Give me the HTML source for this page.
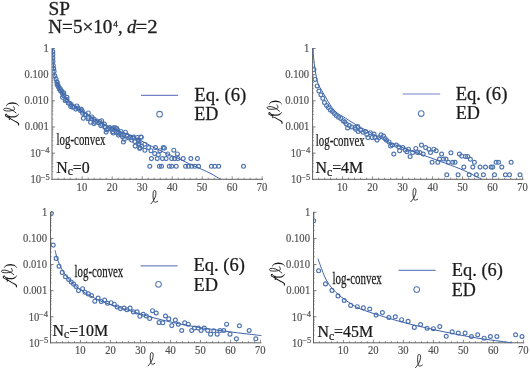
<!DOCTYPE html>
<html><head><meta charset="utf-8"><style>
html,body{margin:0;padding:0;background:#fff;}
body{width:530px;height:368px;overflow:hidden;}
svg{display:block;will-change:transform;filter:blur(0.3px);}
text{font-family:"Liberation Serif",serif;}
.b{stroke:#1a1a1a;stroke-width:0.25px;}
.bt{stroke:#1e1e1e;stroke-width:0.3px;}
.bl{stroke:#505050;stroke-width:0.2px;}
</style></head><body>
<svg width="530" height="368" viewBox="0 0 530 368">
<rect width="530" height="368" fill="#fff"/>
<line x1="52.0" y1="48.0" x2="52.0" y2="179.8" stroke="#606060" stroke-width="1"/>
<line x1="51.5" y1="179.3" x2="263.0" y2="179.3" stroke="#606060" stroke-width="1"/>
<line x1="52.0" y1="48.50" x2="55.0" y2="48.50" stroke="#606060" stroke-width="0.8"/>
<line x1="52.0" y1="66.79" x2="53.4" y2="66.79" stroke="#606060" stroke-width="0.5"/>
<line x1="52.0" y1="62.18" x2="53.4" y2="62.18" stroke="#606060" stroke-width="0.5"/>
<line x1="52.0" y1="58.91" x2="53.4" y2="58.91" stroke="#606060" stroke-width="0.5"/>
<line x1="52.0" y1="56.37" x2="53.4" y2="56.37" stroke="#606060" stroke-width="0.5"/>
<line x1="52.0" y1="54.30" x2="53.4" y2="54.30" stroke="#606060" stroke-width="0.5"/>
<line x1="52.0" y1="52.55" x2="53.4" y2="52.55" stroke="#606060" stroke-width="0.5"/>
<line x1="52.0" y1="51.04" x2="53.4" y2="51.04" stroke="#606060" stroke-width="0.5"/>
<line x1="52.0" y1="49.70" x2="53.4" y2="49.70" stroke="#606060" stroke-width="0.5"/>
<line x1="52.0" y1="74.66" x2="55.0" y2="74.66" stroke="#606060" stroke-width="0.8"/>
<line x1="52.0" y1="92.95" x2="53.4" y2="92.95" stroke="#606060" stroke-width="0.5"/>
<line x1="52.0" y1="88.34" x2="53.4" y2="88.34" stroke="#606060" stroke-width="0.5"/>
<line x1="52.0" y1="85.07" x2="53.4" y2="85.07" stroke="#606060" stroke-width="0.5"/>
<line x1="52.0" y1="82.53" x2="53.4" y2="82.53" stroke="#606060" stroke-width="0.5"/>
<line x1="52.0" y1="80.46" x2="53.4" y2="80.46" stroke="#606060" stroke-width="0.5"/>
<line x1="52.0" y1="78.71" x2="53.4" y2="78.71" stroke="#606060" stroke-width="0.5"/>
<line x1="52.0" y1="77.20" x2="53.4" y2="77.20" stroke="#606060" stroke-width="0.5"/>
<line x1="52.0" y1="75.86" x2="53.4" y2="75.86" stroke="#606060" stroke-width="0.5"/>
<line x1="52.0" y1="100.82" x2="55.0" y2="100.82" stroke="#606060" stroke-width="0.8"/>
<line x1="52.0" y1="119.11" x2="53.4" y2="119.11" stroke="#606060" stroke-width="0.5"/>
<line x1="52.0" y1="114.50" x2="53.4" y2="114.50" stroke="#606060" stroke-width="0.5"/>
<line x1="52.0" y1="111.23" x2="53.4" y2="111.23" stroke="#606060" stroke-width="0.5"/>
<line x1="52.0" y1="108.69" x2="53.4" y2="108.69" stroke="#606060" stroke-width="0.5"/>
<line x1="52.0" y1="106.62" x2="53.4" y2="106.62" stroke="#606060" stroke-width="0.5"/>
<line x1="52.0" y1="104.87" x2="53.4" y2="104.87" stroke="#606060" stroke-width="0.5"/>
<line x1="52.0" y1="103.36" x2="53.4" y2="103.36" stroke="#606060" stroke-width="0.5"/>
<line x1="52.0" y1="102.02" x2="53.4" y2="102.02" stroke="#606060" stroke-width="0.5"/>
<line x1="52.0" y1="126.98" x2="55.0" y2="126.98" stroke="#606060" stroke-width="0.8"/>
<line x1="52.0" y1="145.27" x2="53.4" y2="145.27" stroke="#606060" stroke-width="0.5"/>
<line x1="52.0" y1="140.66" x2="53.4" y2="140.66" stroke="#606060" stroke-width="0.5"/>
<line x1="52.0" y1="137.39" x2="53.4" y2="137.39" stroke="#606060" stroke-width="0.5"/>
<line x1="52.0" y1="134.85" x2="53.4" y2="134.85" stroke="#606060" stroke-width="0.5"/>
<line x1="52.0" y1="132.78" x2="53.4" y2="132.78" stroke="#606060" stroke-width="0.5"/>
<line x1="52.0" y1="131.03" x2="53.4" y2="131.03" stroke="#606060" stroke-width="0.5"/>
<line x1="52.0" y1="129.52" x2="53.4" y2="129.52" stroke="#606060" stroke-width="0.5"/>
<line x1="52.0" y1="128.18" x2="53.4" y2="128.18" stroke="#606060" stroke-width="0.5"/>
<line x1="52.0" y1="153.14" x2="55.0" y2="153.14" stroke="#606060" stroke-width="0.8"/>
<line x1="52.0" y1="171.43" x2="53.4" y2="171.43" stroke="#606060" stroke-width="0.5"/>
<line x1="52.0" y1="166.82" x2="53.4" y2="166.82" stroke="#606060" stroke-width="0.5"/>
<line x1="52.0" y1="163.55" x2="53.4" y2="163.55" stroke="#606060" stroke-width="0.5"/>
<line x1="52.0" y1="161.01" x2="53.4" y2="161.01" stroke="#606060" stroke-width="0.5"/>
<line x1="52.0" y1="158.94" x2="53.4" y2="158.94" stroke="#606060" stroke-width="0.5"/>
<line x1="52.0" y1="157.19" x2="53.4" y2="157.19" stroke="#606060" stroke-width="0.5"/>
<line x1="52.0" y1="155.68" x2="53.4" y2="155.68" stroke="#606060" stroke-width="0.5"/>
<line x1="52.0" y1="154.34" x2="53.4" y2="154.34" stroke="#606060" stroke-width="0.5"/>
<line x1="58.20" y1="179.3" x2="58.20" y2="177.70000000000002" stroke="#606060" stroke-width="0.7"/>
<line x1="64.20" y1="179.3" x2="64.20" y2="177.70000000000002" stroke="#606060" stroke-width="0.7"/>
<line x1="70.20" y1="179.3" x2="70.20" y2="177.70000000000002" stroke="#606060" stroke-width="0.7"/>
<line x1="76.20" y1="179.3" x2="76.20" y2="177.70000000000002" stroke="#606060" stroke-width="0.7"/>
<line x1="82.20" y1="179.3" x2="82.20" y2="176.3" stroke="#606060" stroke-width="0.7"/>
<line x1="88.20" y1="179.3" x2="88.20" y2="177.70000000000002" stroke="#606060" stroke-width="0.7"/>
<line x1="94.20" y1="179.3" x2="94.20" y2="177.70000000000002" stroke="#606060" stroke-width="0.7"/>
<line x1="100.20" y1="179.3" x2="100.20" y2="177.70000000000002" stroke="#606060" stroke-width="0.7"/>
<line x1="106.20" y1="179.3" x2="106.20" y2="177.70000000000002" stroke="#606060" stroke-width="0.7"/>
<line x1="112.20" y1="179.3" x2="112.20" y2="176.3" stroke="#606060" stroke-width="0.7"/>
<line x1="118.20" y1="179.3" x2="118.20" y2="177.70000000000002" stroke="#606060" stroke-width="0.7"/>
<line x1="124.20" y1="179.3" x2="124.20" y2="177.70000000000002" stroke="#606060" stroke-width="0.7"/>
<line x1="130.20" y1="179.3" x2="130.20" y2="177.70000000000002" stroke="#606060" stroke-width="0.7"/>
<line x1="136.20" y1="179.3" x2="136.20" y2="177.70000000000002" stroke="#606060" stroke-width="0.7"/>
<line x1="142.20" y1="179.3" x2="142.20" y2="176.3" stroke="#606060" stroke-width="0.7"/>
<line x1="148.20" y1="179.3" x2="148.20" y2="177.70000000000002" stroke="#606060" stroke-width="0.7"/>
<line x1="154.20" y1="179.3" x2="154.20" y2="177.70000000000002" stroke="#606060" stroke-width="0.7"/>
<line x1="160.20" y1="179.3" x2="160.20" y2="177.70000000000002" stroke="#606060" stroke-width="0.7"/>
<line x1="166.20" y1="179.3" x2="166.20" y2="177.70000000000002" stroke="#606060" stroke-width="0.7"/>
<line x1="172.20" y1="179.3" x2="172.20" y2="176.3" stroke="#606060" stroke-width="0.7"/>
<line x1="178.20" y1="179.3" x2="178.20" y2="177.70000000000002" stroke="#606060" stroke-width="0.7"/>
<line x1="184.20" y1="179.3" x2="184.20" y2="177.70000000000002" stroke="#606060" stroke-width="0.7"/>
<line x1="190.20" y1="179.3" x2="190.20" y2="177.70000000000002" stroke="#606060" stroke-width="0.7"/>
<line x1="196.20" y1="179.3" x2="196.20" y2="177.70000000000002" stroke="#606060" stroke-width="0.7"/>
<line x1="202.20" y1="179.3" x2="202.20" y2="176.3" stroke="#606060" stroke-width="0.7"/>
<line x1="208.20" y1="179.3" x2="208.20" y2="177.70000000000002" stroke="#606060" stroke-width="0.7"/>
<line x1="214.20" y1="179.3" x2="214.20" y2="177.70000000000002" stroke="#606060" stroke-width="0.7"/>
<line x1="220.20" y1="179.3" x2="220.20" y2="177.70000000000002" stroke="#606060" stroke-width="0.7"/>
<line x1="226.20" y1="179.3" x2="226.20" y2="177.70000000000002" stroke="#606060" stroke-width="0.7"/>
<line x1="232.20" y1="179.3" x2="232.20" y2="176.3" stroke="#606060" stroke-width="0.7"/>
<line x1="238.20" y1="179.3" x2="238.20" y2="177.70000000000002" stroke="#606060" stroke-width="0.7"/>
<line x1="244.20" y1="179.3" x2="244.20" y2="177.70000000000002" stroke="#606060" stroke-width="0.7"/>
<line x1="250.20" y1="179.3" x2="250.20" y2="177.70000000000002" stroke="#606060" stroke-width="0.7"/>
<line x1="256.20" y1="179.3" x2="256.20" y2="177.70000000000002" stroke="#606060" stroke-width="0.7"/>
<line x1="262.20" y1="179.3" x2="262.20" y2="176.3" stroke="#606060" stroke-width="0.7"/>
<text class="bl" transform="translate(43.43,52.00) scale(0.8300,1)" style="font-size:12.8px;fill:#505050">1</text>
<text class="bl" transform="translate(24.60,78.16) scale(0.8300,1)" style="font-size:12.8px;fill:#505050">0.100</text>
<text class="bl" transform="translate(24.60,104.32) scale(0.8300,1)" style="font-size:12.8px;fill:#505050">0.010</text>
<text class="bl" transform="translate(24.83,130.48) scale(0.8300,1)" style="font-size:12.8px;fill:#505050">0.001</text>
<text class="bl" transform="translate(40.49,153.44) scale(1.0000,1)" style="font-size:8.5px;fill:#505050">−4</text>
<text class="bl" transform="translate(30.19,157.14) scale(0.8300,1)" style="font-size:12.8px;fill:#505050">10</text>
<text class="bl" transform="translate(40.69,179.60) scale(1.0000,1)" style="font-size:8.5px;fill:#505050">−5</text>
<text class="bl" transform="translate(30.39,183.30) scale(0.8300,1)" style="font-size:12.8px;fill:#505050">10</text>
<text class="bl" transform="translate(76.62,190.90) scale(0.8300,1)" style="font-size:12.8px;fill:#505050">10</text>
<text class="bl" transform="translate(106.86,190.90) scale(0.8300,1)" style="font-size:12.8px;fill:#505050">20</text>
<text class="bl" transform="translate(136.84,190.90) scale(0.8300,1)" style="font-size:12.8px;fill:#505050">30</text>
<text class="bl" transform="translate(166.99,190.90) scale(0.8300,1)" style="font-size:12.8px;fill:#505050">40</text>
<text class="bl" transform="translate(196.78,190.90) scale(0.8300,1)" style="font-size:12.8px;fill:#505050">50</text>
<text class="bl" transform="translate(226.86,190.90) scale(0.8300,1)" style="font-size:12.8px;fill:#505050">60</text>
<text class="bl" transform="translate(256.74,190.90) scale(0.8300,1)" style="font-size:12.8px;fill:#505050">70</text>
<line x1="312.6" y1="48.0" x2="312.6" y2="179.8" stroke="#606060" stroke-width="1"/>
<line x1="312.1" y1="179.3" x2="523.4" y2="179.3" stroke="#606060" stroke-width="1"/>
<line x1="312.6" y1="48.50" x2="315.6" y2="48.50" stroke="#606060" stroke-width="0.8"/>
<line x1="312.6" y1="66.79" x2="314.0" y2="66.79" stroke="#606060" stroke-width="0.5"/>
<line x1="312.6" y1="62.18" x2="314.0" y2="62.18" stroke="#606060" stroke-width="0.5"/>
<line x1="312.6" y1="58.91" x2="314.0" y2="58.91" stroke="#606060" stroke-width="0.5"/>
<line x1="312.6" y1="56.37" x2="314.0" y2="56.37" stroke="#606060" stroke-width="0.5"/>
<line x1="312.6" y1="54.30" x2="314.0" y2="54.30" stroke="#606060" stroke-width="0.5"/>
<line x1="312.6" y1="52.55" x2="314.0" y2="52.55" stroke="#606060" stroke-width="0.5"/>
<line x1="312.6" y1="51.04" x2="314.0" y2="51.04" stroke="#606060" stroke-width="0.5"/>
<line x1="312.6" y1="49.70" x2="314.0" y2="49.70" stroke="#606060" stroke-width="0.5"/>
<line x1="312.6" y1="74.66" x2="315.6" y2="74.66" stroke="#606060" stroke-width="0.8"/>
<line x1="312.6" y1="92.95" x2="314.0" y2="92.95" stroke="#606060" stroke-width="0.5"/>
<line x1="312.6" y1="88.34" x2="314.0" y2="88.34" stroke="#606060" stroke-width="0.5"/>
<line x1="312.6" y1="85.07" x2="314.0" y2="85.07" stroke="#606060" stroke-width="0.5"/>
<line x1="312.6" y1="82.53" x2="314.0" y2="82.53" stroke="#606060" stroke-width="0.5"/>
<line x1="312.6" y1="80.46" x2="314.0" y2="80.46" stroke="#606060" stroke-width="0.5"/>
<line x1="312.6" y1="78.71" x2="314.0" y2="78.71" stroke="#606060" stroke-width="0.5"/>
<line x1="312.6" y1="77.20" x2="314.0" y2="77.20" stroke="#606060" stroke-width="0.5"/>
<line x1="312.6" y1="75.86" x2="314.0" y2="75.86" stroke="#606060" stroke-width="0.5"/>
<line x1="312.6" y1="100.82" x2="315.6" y2="100.82" stroke="#606060" stroke-width="0.8"/>
<line x1="312.6" y1="119.11" x2="314.0" y2="119.11" stroke="#606060" stroke-width="0.5"/>
<line x1="312.6" y1="114.50" x2="314.0" y2="114.50" stroke="#606060" stroke-width="0.5"/>
<line x1="312.6" y1="111.23" x2="314.0" y2="111.23" stroke="#606060" stroke-width="0.5"/>
<line x1="312.6" y1="108.69" x2="314.0" y2="108.69" stroke="#606060" stroke-width="0.5"/>
<line x1="312.6" y1="106.62" x2="314.0" y2="106.62" stroke="#606060" stroke-width="0.5"/>
<line x1="312.6" y1="104.87" x2="314.0" y2="104.87" stroke="#606060" stroke-width="0.5"/>
<line x1="312.6" y1="103.36" x2="314.0" y2="103.36" stroke="#606060" stroke-width="0.5"/>
<line x1="312.6" y1="102.02" x2="314.0" y2="102.02" stroke="#606060" stroke-width="0.5"/>
<line x1="312.6" y1="126.98" x2="315.6" y2="126.98" stroke="#606060" stroke-width="0.8"/>
<line x1="312.6" y1="145.27" x2="314.0" y2="145.27" stroke="#606060" stroke-width="0.5"/>
<line x1="312.6" y1="140.66" x2="314.0" y2="140.66" stroke="#606060" stroke-width="0.5"/>
<line x1="312.6" y1="137.39" x2="314.0" y2="137.39" stroke="#606060" stroke-width="0.5"/>
<line x1="312.6" y1="134.85" x2="314.0" y2="134.85" stroke="#606060" stroke-width="0.5"/>
<line x1="312.6" y1="132.78" x2="314.0" y2="132.78" stroke="#606060" stroke-width="0.5"/>
<line x1="312.6" y1="131.03" x2="314.0" y2="131.03" stroke="#606060" stroke-width="0.5"/>
<line x1="312.6" y1="129.52" x2="314.0" y2="129.52" stroke="#606060" stroke-width="0.5"/>
<line x1="312.6" y1="128.18" x2="314.0" y2="128.18" stroke="#606060" stroke-width="0.5"/>
<line x1="312.6" y1="153.14" x2="315.6" y2="153.14" stroke="#606060" stroke-width="0.8"/>
<line x1="312.6" y1="171.43" x2="314.0" y2="171.43" stroke="#606060" stroke-width="0.5"/>
<line x1="312.6" y1="166.82" x2="314.0" y2="166.82" stroke="#606060" stroke-width="0.5"/>
<line x1="312.6" y1="163.55" x2="314.0" y2="163.55" stroke="#606060" stroke-width="0.5"/>
<line x1="312.6" y1="161.01" x2="314.0" y2="161.01" stroke="#606060" stroke-width="0.5"/>
<line x1="312.6" y1="158.94" x2="314.0" y2="158.94" stroke="#606060" stroke-width="0.5"/>
<line x1="312.6" y1="157.19" x2="314.0" y2="157.19" stroke="#606060" stroke-width="0.5"/>
<line x1="312.6" y1="155.68" x2="314.0" y2="155.68" stroke="#606060" stroke-width="0.5"/>
<line x1="312.6" y1="154.34" x2="314.0" y2="154.34" stroke="#606060" stroke-width="0.5"/>
<line x1="318.60" y1="179.3" x2="318.60" y2="177.70000000000002" stroke="#606060" stroke-width="0.7"/>
<line x1="324.60" y1="179.3" x2="324.60" y2="177.70000000000002" stroke="#606060" stroke-width="0.7"/>
<line x1="330.60" y1="179.3" x2="330.60" y2="177.70000000000002" stroke="#606060" stroke-width="0.7"/>
<line x1="336.60" y1="179.3" x2="336.60" y2="177.70000000000002" stroke="#606060" stroke-width="0.7"/>
<line x1="342.60" y1="179.3" x2="342.60" y2="176.3" stroke="#606060" stroke-width="0.7"/>
<line x1="348.60" y1="179.3" x2="348.60" y2="177.70000000000002" stroke="#606060" stroke-width="0.7"/>
<line x1="354.60" y1="179.3" x2="354.60" y2="177.70000000000002" stroke="#606060" stroke-width="0.7"/>
<line x1="360.60" y1="179.3" x2="360.60" y2="177.70000000000002" stroke="#606060" stroke-width="0.7"/>
<line x1="366.60" y1="179.3" x2="366.60" y2="177.70000000000002" stroke="#606060" stroke-width="0.7"/>
<line x1="372.60" y1="179.3" x2="372.60" y2="176.3" stroke="#606060" stroke-width="0.7"/>
<line x1="378.60" y1="179.3" x2="378.60" y2="177.70000000000002" stroke="#606060" stroke-width="0.7"/>
<line x1="384.60" y1="179.3" x2="384.60" y2="177.70000000000002" stroke="#606060" stroke-width="0.7"/>
<line x1="390.60" y1="179.3" x2="390.60" y2="177.70000000000002" stroke="#606060" stroke-width="0.7"/>
<line x1="396.60" y1="179.3" x2="396.60" y2="177.70000000000002" stroke="#606060" stroke-width="0.7"/>
<line x1="402.60" y1="179.3" x2="402.60" y2="176.3" stroke="#606060" stroke-width="0.7"/>
<line x1="408.60" y1="179.3" x2="408.60" y2="177.70000000000002" stroke="#606060" stroke-width="0.7"/>
<line x1="414.60" y1="179.3" x2="414.60" y2="177.70000000000002" stroke="#606060" stroke-width="0.7"/>
<line x1="420.60" y1="179.3" x2="420.60" y2="177.70000000000002" stroke="#606060" stroke-width="0.7"/>
<line x1="426.60" y1="179.3" x2="426.60" y2="177.70000000000002" stroke="#606060" stroke-width="0.7"/>
<line x1="432.60" y1="179.3" x2="432.60" y2="176.3" stroke="#606060" stroke-width="0.7"/>
<line x1="438.60" y1="179.3" x2="438.60" y2="177.70000000000002" stroke="#606060" stroke-width="0.7"/>
<line x1="444.60" y1="179.3" x2="444.60" y2="177.70000000000002" stroke="#606060" stroke-width="0.7"/>
<line x1="450.60" y1="179.3" x2="450.60" y2="177.70000000000002" stroke="#606060" stroke-width="0.7"/>
<line x1="456.60" y1="179.3" x2="456.60" y2="177.70000000000002" stroke="#606060" stroke-width="0.7"/>
<line x1="462.60" y1="179.3" x2="462.60" y2="176.3" stroke="#606060" stroke-width="0.7"/>
<line x1="468.60" y1="179.3" x2="468.60" y2="177.70000000000002" stroke="#606060" stroke-width="0.7"/>
<line x1="474.60" y1="179.3" x2="474.60" y2="177.70000000000002" stroke="#606060" stroke-width="0.7"/>
<line x1="480.60" y1="179.3" x2="480.60" y2="177.70000000000002" stroke="#606060" stroke-width="0.7"/>
<line x1="486.60" y1="179.3" x2="486.60" y2="177.70000000000002" stroke="#606060" stroke-width="0.7"/>
<line x1="492.60" y1="179.3" x2="492.60" y2="176.3" stroke="#606060" stroke-width="0.7"/>
<line x1="498.60" y1="179.3" x2="498.60" y2="177.70000000000002" stroke="#606060" stroke-width="0.7"/>
<line x1="504.60" y1="179.3" x2="504.60" y2="177.70000000000002" stroke="#606060" stroke-width="0.7"/>
<line x1="510.60" y1="179.3" x2="510.60" y2="177.70000000000002" stroke="#606060" stroke-width="0.7"/>
<line x1="516.60" y1="179.3" x2="516.60" y2="177.70000000000002" stroke="#606060" stroke-width="0.7"/>
<line x1="522.60" y1="179.3" x2="522.60" y2="176.3" stroke="#606060" stroke-width="0.7"/>
<text class="bl" transform="translate(304.03,52.00) scale(0.8300,1)" style="font-size:12.8px;fill:#505050">1</text>
<text class="bl" transform="translate(285.20,78.16) scale(0.8300,1)" style="font-size:12.8px;fill:#505050">0.100</text>
<text class="bl" transform="translate(285.20,104.32) scale(0.8300,1)" style="font-size:12.8px;fill:#505050">0.010</text>
<text class="bl" transform="translate(285.43,130.48) scale(0.8300,1)" style="font-size:12.8px;fill:#505050">0.001</text>
<text class="bl" transform="translate(301.09,153.44) scale(1.0000,1)" style="font-size:8.5px;fill:#505050">−4</text>
<text class="bl" transform="translate(290.79,157.14) scale(0.8300,1)" style="font-size:12.8px;fill:#505050">10</text>
<text class="bl" transform="translate(301.29,179.60) scale(1.0000,1)" style="font-size:8.5px;fill:#505050">−5</text>
<text class="bl" transform="translate(290.99,183.30) scale(0.8300,1)" style="font-size:12.8px;fill:#505050">10</text>
<text class="bl" transform="translate(337.02,190.90) scale(0.8300,1)" style="font-size:12.8px;fill:#505050">10</text>
<text class="bl" transform="translate(367.26,190.90) scale(0.8300,1)" style="font-size:12.8px;fill:#505050">20</text>
<text class="bl" transform="translate(397.24,190.90) scale(0.8300,1)" style="font-size:12.8px;fill:#505050">30</text>
<text class="bl" transform="translate(427.39,190.90) scale(0.8300,1)" style="font-size:12.8px;fill:#505050">40</text>
<text class="bl" transform="translate(457.18,190.90) scale(0.8300,1)" style="font-size:12.8px;fill:#505050">50</text>
<text class="bl" transform="translate(487.26,190.90) scale(0.8300,1)" style="font-size:12.8px;fill:#505050">60</text>
<text class="bl" transform="translate(517.14,190.90) scale(0.8300,1)" style="font-size:12.8px;fill:#505050">70</text>
<line x1="50.5" y1="211.8" x2="50.5" y2="343.3" stroke="#606060" stroke-width="1"/>
<line x1="50.0" y1="342.8" x2="261.3" y2="342.8" stroke="#606060" stroke-width="1"/>
<line x1="50.5" y1="212.30" x2="53.5" y2="212.30" stroke="#606060" stroke-width="0.8"/>
<line x1="50.5" y1="230.54" x2="51.9" y2="230.54" stroke="#606060" stroke-width="0.5"/>
<line x1="50.5" y1="225.95" x2="51.9" y2="225.95" stroke="#606060" stroke-width="0.5"/>
<line x1="50.5" y1="222.69" x2="51.9" y2="222.69" stroke="#606060" stroke-width="0.5"/>
<line x1="50.5" y1="220.16" x2="51.9" y2="220.16" stroke="#606060" stroke-width="0.5"/>
<line x1="50.5" y1="218.09" x2="51.9" y2="218.09" stroke="#606060" stroke-width="0.5"/>
<line x1="50.5" y1="216.34" x2="51.9" y2="216.34" stroke="#606060" stroke-width="0.5"/>
<line x1="50.5" y1="214.83" x2="51.9" y2="214.83" stroke="#606060" stroke-width="0.5"/>
<line x1="50.5" y1="213.49" x2="51.9" y2="213.49" stroke="#606060" stroke-width="0.5"/>
<line x1="50.5" y1="238.40" x2="53.5" y2="238.40" stroke="#606060" stroke-width="0.8"/>
<line x1="50.5" y1="256.64" x2="51.9" y2="256.64" stroke="#606060" stroke-width="0.5"/>
<line x1="50.5" y1="252.05" x2="51.9" y2="252.05" stroke="#606060" stroke-width="0.5"/>
<line x1="50.5" y1="248.79" x2="51.9" y2="248.79" stroke="#606060" stroke-width="0.5"/>
<line x1="50.5" y1="246.26" x2="51.9" y2="246.26" stroke="#606060" stroke-width="0.5"/>
<line x1="50.5" y1="244.19" x2="51.9" y2="244.19" stroke="#606060" stroke-width="0.5"/>
<line x1="50.5" y1="242.44" x2="51.9" y2="242.44" stroke="#606060" stroke-width="0.5"/>
<line x1="50.5" y1="240.93" x2="51.9" y2="240.93" stroke="#606060" stroke-width="0.5"/>
<line x1="50.5" y1="239.59" x2="51.9" y2="239.59" stroke="#606060" stroke-width="0.5"/>
<line x1="50.5" y1="264.50" x2="53.5" y2="264.50" stroke="#606060" stroke-width="0.8"/>
<line x1="50.5" y1="282.74" x2="51.9" y2="282.74" stroke="#606060" stroke-width="0.5"/>
<line x1="50.5" y1="278.15" x2="51.9" y2="278.15" stroke="#606060" stroke-width="0.5"/>
<line x1="50.5" y1="274.89" x2="51.9" y2="274.89" stroke="#606060" stroke-width="0.5"/>
<line x1="50.5" y1="272.36" x2="51.9" y2="272.36" stroke="#606060" stroke-width="0.5"/>
<line x1="50.5" y1="270.29" x2="51.9" y2="270.29" stroke="#606060" stroke-width="0.5"/>
<line x1="50.5" y1="268.54" x2="51.9" y2="268.54" stroke="#606060" stroke-width="0.5"/>
<line x1="50.5" y1="267.03" x2="51.9" y2="267.03" stroke="#606060" stroke-width="0.5"/>
<line x1="50.5" y1="265.69" x2="51.9" y2="265.69" stroke="#606060" stroke-width="0.5"/>
<line x1="50.5" y1="290.60" x2="53.5" y2="290.60" stroke="#606060" stroke-width="0.8"/>
<line x1="50.5" y1="308.84" x2="51.9" y2="308.84" stroke="#606060" stroke-width="0.5"/>
<line x1="50.5" y1="304.25" x2="51.9" y2="304.25" stroke="#606060" stroke-width="0.5"/>
<line x1="50.5" y1="300.99" x2="51.9" y2="300.99" stroke="#606060" stroke-width="0.5"/>
<line x1="50.5" y1="298.46" x2="51.9" y2="298.46" stroke="#606060" stroke-width="0.5"/>
<line x1="50.5" y1="296.39" x2="51.9" y2="296.39" stroke="#606060" stroke-width="0.5"/>
<line x1="50.5" y1="294.64" x2="51.9" y2="294.64" stroke="#606060" stroke-width="0.5"/>
<line x1="50.5" y1="293.13" x2="51.9" y2="293.13" stroke="#606060" stroke-width="0.5"/>
<line x1="50.5" y1="291.79" x2="51.9" y2="291.79" stroke="#606060" stroke-width="0.5"/>
<line x1="50.5" y1="316.70" x2="53.5" y2="316.70" stroke="#606060" stroke-width="0.8"/>
<line x1="50.5" y1="334.94" x2="51.9" y2="334.94" stroke="#606060" stroke-width="0.5"/>
<line x1="50.5" y1="330.35" x2="51.9" y2="330.35" stroke="#606060" stroke-width="0.5"/>
<line x1="50.5" y1="327.09" x2="51.9" y2="327.09" stroke="#606060" stroke-width="0.5"/>
<line x1="50.5" y1="324.56" x2="51.9" y2="324.56" stroke="#606060" stroke-width="0.5"/>
<line x1="50.5" y1="322.49" x2="51.9" y2="322.49" stroke="#606060" stroke-width="0.5"/>
<line x1="50.5" y1="320.74" x2="51.9" y2="320.74" stroke="#606060" stroke-width="0.5"/>
<line x1="50.5" y1="319.23" x2="51.9" y2="319.23" stroke="#606060" stroke-width="0.5"/>
<line x1="50.5" y1="317.89" x2="51.9" y2="317.89" stroke="#606060" stroke-width="0.5"/>
<line x1="56.50" y1="342.8" x2="56.50" y2="341.2" stroke="#606060" stroke-width="0.7"/>
<line x1="62.50" y1="342.8" x2="62.50" y2="341.2" stroke="#606060" stroke-width="0.7"/>
<line x1="68.50" y1="342.8" x2="68.50" y2="341.2" stroke="#606060" stroke-width="0.7"/>
<line x1="74.50" y1="342.8" x2="74.50" y2="341.2" stroke="#606060" stroke-width="0.7"/>
<line x1="80.50" y1="342.8" x2="80.50" y2="339.8" stroke="#606060" stroke-width="0.7"/>
<line x1="86.50" y1="342.8" x2="86.50" y2="341.2" stroke="#606060" stroke-width="0.7"/>
<line x1="92.50" y1="342.8" x2="92.50" y2="341.2" stroke="#606060" stroke-width="0.7"/>
<line x1="98.50" y1="342.8" x2="98.50" y2="341.2" stroke="#606060" stroke-width="0.7"/>
<line x1="104.50" y1="342.8" x2="104.50" y2="341.2" stroke="#606060" stroke-width="0.7"/>
<line x1="110.50" y1="342.8" x2="110.50" y2="339.8" stroke="#606060" stroke-width="0.7"/>
<line x1="116.50" y1="342.8" x2="116.50" y2="341.2" stroke="#606060" stroke-width="0.7"/>
<line x1="122.50" y1="342.8" x2="122.50" y2="341.2" stroke="#606060" stroke-width="0.7"/>
<line x1="128.50" y1="342.8" x2="128.50" y2="341.2" stroke="#606060" stroke-width="0.7"/>
<line x1="134.50" y1="342.8" x2="134.50" y2="341.2" stroke="#606060" stroke-width="0.7"/>
<line x1="140.50" y1="342.8" x2="140.50" y2="339.8" stroke="#606060" stroke-width="0.7"/>
<line x1="146.50" y1="342.8" x2="146.50" y2="341.2" stroke="#606060" stroke-width="0.7"/>
<line x1="152.50" y1="342.8" x2="152.50" y2="341.2" stroke="#606060" stroke-width="0.7"/>
<line x1="158.50" y1="342.8" x2="158.50" y2="341.2" stroke="#606060" stroke-width="0.7"/>
<line x1="164.50" y1="342.8" x2="164.50" y2="341.2" stroke="#606060" stroke-width="0.7"/>
<line x1="170.50" y1="342.8" x2="170.50" y2="339.8" stroke="#606060" stroke-width="0.7"/>
<line x1="176.50" y1="342.8" x2="176.50" y2="341.2" stroke="#606060" stroke-width="0.7"/>
<line x1="182.50" y1="342.8" x2="182.50" y2="341.2" stroke="#606060" stroke-width="0.7"/>
<line x1="188.50" y1="342.8" x2="188.50" y2="341.2" stroke="#606060" stroke-width="0.7"/>
<line x1="194.50" y1="342.8" x2="194.50" y2="341.2" stroke="#606060" stroke-width="0.7"/>
<line x1="200.50" y1="342.8" x2="200.50" y2="339.8" stroke="#606060" stroke-width="0.7"/>
<line x1="206.50" y1="342.8" x2="206.50" y2="341.2" stroke="#606060" stroke-width="0.7"/>
<line x1="212.50" y1="342.8" x2="212.50" y2="341.2" stroke="#606060" stroke-width="0.7"/>
<line x1="218.50" y1="342.8" x2="218.50" y2="341.2" stroke="#606060" stroke-width="0.7"/>
<line x1="224.50" y1="342.8" x2="224.50" y2="341.2" stroke="#606060" stroke-width="0.7"/>
<line x1="230.50" y1="342.8" x2="230.50" y2="339.8" stroke="#606060" stroke-width="0.7"/>
<line x1="236.50" y1="342.8" x2="236.50" y2="341.2" stroke="#606060" stroke-width="0.7"/>
<line x1="242.50" y1="342.8" x2="242.50" y2="341.2" stroke="#606060" stroke-width="0.7"/>
<line x1="248.50" y1="342.8" x2="248.50" y2="341.2" stroke="#606060" stroke-width="0.7"/>
<line x1="254.50" y1="342.8" x2="254.50" y2="341.2" stroke="#606060" stroke-width="0.7"/>
<line x1="260.50" y1="342.8" x2="260.50" y2="339.8" stroke="#606060" stroke-width="0.7"/>
<text class="bl" transform="translate(41.93,215.80) scale(0.8300,1)" style="font-size:12.8px;fill:#505050">1</text>
<text class="bl" transform="translate(23.10,241.90) scale(0.8300,1)" style="font-size:12.8px;fill:#505050">0.100</text>
<text class="bl" transform="translate(23.10,268.00) scale(0.8300,1)" style="font-size:12.8px;fill:#505050">0.010</text>
<text class="bl" transform="translate(23.33,294.10) scale(0.8300,1)" style="font-size:12.8px;fill:#505050">0.001</text>
<text class="bl" transform="translate(38.99,317.00) scale(1.0000,1)" style="font-size:8.5px;fill:#505050">−4</text>
<text class="bl" transform="translate(28.69,320.70) scale(0.8300,1)" style="font-size:12.8px;fill:#505050">10</text>
<text class="bl" transform="translate(39.19,343.10) scale(1.0000,1)" style="font-size:8.5px;fill:#505050">−5</text>
<text class="bl" transform="translate(28.89,346.80) scale(0.8300,1)" style="font-size:12.8px;fill:#505050">10</text>
<text class="bl" transform="translate(74.92,354.40) scale(0.8300,1)" style="font-size:12.8px;fill:#505050">10</text>
<text class="bl" transform="translate(105.16,354.40) scale(0.8300,1)" style="font-size:12.8px;fill:#505050">20</text>
<text class="bl" transform="translate(135.14,354.40) scale(0.8300,1)" style="font-size:12.8px;fill:#505050">30</text>
<text class="bl" transform="translate(165.29,354.40) scale(0.8300,1)" style="font-size:12.8px;fill:#505050">40</text>
<text class="bl" transform="translate(195.08,354.40) scale(0.8300,1)" style="font-size:12.8px;fill:#505050">50</text>
<text class="bl" transform="translate(225.16,354.40) scale(0.8300,1)" style="font-size:12.8px;fill:#505050">60</text>
<text class="bl" transform="translate(255.04,354.40) scale(0.8300,1)" style="font-size:12.8px;fill:#505050">70</text>
<line x1="313.5" y1="211.8" x2="313.5" y2="343.3" stroke="#606060" stroke-width="1"/>
<line x1="313.0" y1="342.8" x2="524.1999999999999" y2="342.8" stroke="#606060" stroke-width="1"/>
<line x1="313.5" y1="212.30" x2="316.5" y2="212.30" stroke="#606060" stroke-width="0.8"/>
<line x1="313.5" y1="230.54" x2="314.9" y2="230.54" stroke="#606060" stroke-width="0.5"/>
<line x1="313.5" y1="225.95" x2="314.9" y2="225.95" stroke="#606060" stroke-width="0.5"/>
<line x1="313.5" y1="222.69" x2="314.9" y2="222.69" stroke="#606060" stroke-width="0.5"/>
<line x1="313.5" y1="220.16" x2="314.9" y2="220.16" stroke="#606060" stroke-width="0.5"/>
<line x1="313.5" y1="218.09" x2="314.9" y2="218.09" stroke="#606060" stroke-width="0.5"/>
<line x1="313.5" y1="216.34" x2="314.9" y2="216.34" stroke="#606060" stroke-width="0.5"/>
<line x1="313.5" y1="214.83" x2="314.9" y2="214.83" stroke="#606060" stroke-width="0.5"/>
<line x1="313.5" y1="213.49" x2="314.9" y2="213.49" stroke="#606060" stroke-width="0.5"/>
<line x1="313.5" y1="238.40" x2="316.5" y2="238.40" stroke="#606060" stroke-width="0.8"/>
<line x1="313.5" y1="256.64" x2="314.9" y2="256.64" stroke="#606060" stroke-width="0.5"/>
<line x1="313.5" y1="252.05" x2="314.9" y2="252.05" stroke="#606060" stroke-width="0.5"/>
<line x1="313.5" y1="248.79" x2="314.9" y2="248.79" stroke="#606060" stroke-width="0.5"/>
<line x1="313.5" y1="246.26" x2="314.9" y2="246.26" stroke="#606060" stroke-width="0.5"/>
<line x1="313.5" y1="244.19" x2="314.9" y2="244.19" stroke="#606060" stroke-width="0.5"/>
<line x1="313.5" y1="242.44" x2="314.9" y2="242.44" stroke="#606060" stroke-width="0.5"/>
<line x1="313.5" y1="240.93" x2="314.9" y2="240.93" stroke="#606060" stroke-width="0.5"/>
<line x1="313.5" y1="239.59" x2="314.9" y2="239.59" stroke="#606060" stroke-width="0.5"/>
<line x1="313.5" y1="264.50" x2="316.5" y2="264.50" stroke="#606060" stroke-width="0.8"/>
<line x1="313.5" y1="282.74" x2="314.9" y2="282.74" stroke="#606060" stroke-width="0.5"/>
<line x1="313.5" y1="278.15" x2="314.9" y2="278.15" stroke="#606060" stroke-width="0.5"/>
<line x1="313.5" y1="274.89" x2="314.9" y2="274.89" stroke="#606060" stroke-width="0.5"/>
<line x1="313.5" y1="272.36" x2="314.9" y2="272.36" stroke="#606060" stroke-width="0.5"/>
<line x1="313.5" y1="270.29" x2="314.9" y2="270.29" stroke="#606060" stroke-width="0.5"/>
<line x1="313.5" y1="268.54" x2="314.9" y2="268.54" stroke="#606060" stroke-width="0.5"/>
<line x1="313.5" y1="267.03" x2="314.9" y2="267.03" stroke="#606060" stroke-width="0.5"/>
<line x1="313.5" y1="265.69" x2="314.9" y2="265.69" stroke="#606060" stroke-width="0.5"/>
<line x1="313.5" y1="290.60" x2="316.5" y2="290.60" stroke="#606060" stroke-width="0.8"/>
<line x1="313.5" y1="308.84" x2="314.9" y2="308.84" stroke="#606060" stroke-width="0.5"/>
<line x1="313.5" y1="304.25" x2="314.9" y2="304.25" stroke="#606060" stroke-width="0.5"/>
<line x1="313.5" y1="300.99" x2="314.9" y2="300.99" stroke="#606060" stroke-width="0.5"/>
<line x1="313.5" y1="298.46" x2="314.9" y2="298.46" stroke="#606060" stroke-width="0.5"/>
<line x1="313.5" y1="296.39" x2="314.9" y2="296.39" stroke="#606060" stroke-width="0.5"/>
<line x1="313.5" y1="294.64" x2="314.9" y2="294.64" stroke="#606060" stroke-width="0.5"/>
<line x1="313.5" y1="293.13" x2="314.9" y2="293.13" stroke="#606060" stroke-width="0.5"/>
<line x1="313.5" y1="291.79" x2="314.9" y2="291.79" stroke="#606060" stroke-width="0.5"/>
<line x1="313.5" y1="316.70" x2="316.5" y2="316.70" stroke="#606060" stroke-width="0.8"/>
<line x1="313.5" y1="334.94" x2="314.9" y2="334.94" stroke="#606060" stroke-width="0.5"/>
<line x1="313.5" y1="330.35" x2="314.9" y2="330.35" stroke="#606060" stroke-width="0.5"/>
<line x1="313.5" y1="327.09" x2="314.9" y2="327.09" stroke="#606060" stroke-width="0.5"/>
<line x1="313.5" y1="324.56" x2="314.9" y2="324.56" stroke="#606060" stroke-width="0.5"/>
<line x1="313.5" y1="322.49" x2="314.9" y2="322.49" stroke="#606060" stroke-width="0.5"/>
<line x1="313.5" y1="320.74" x2="314.9" y2="320.74" stroke="#606060" stroke-width="0.5"/>
<line x1="313.5" y1="319.23" x2="314.9" y2="319.23" stroke="#606060" stroke-width="0.5"/>
<line x1="313.5" y1="317.89" x2="314.9" y2="317.89" stroke="#606060" stroke-width="0.5"/>
<line x1="319.40" y1="342.8" x2="319.40" y2="341.2" stroke="#606060" stroke-width="0.7"/>
<line x1="325.40" y1="342.8" x2="325.40" y2="341.2" stroke="#606060" stroke-width="0.7"/>
<line x1="331.40" y1="342.8" x2="331.40" y2="341.2" stroke="#606060" stroke-width="0.7"/>
<line x1="337.40" y1="342.8" x2="337.40" y2="341.2" stroke="#606060" stroke-width="0.7"/>
<line x1="343.40" y1="342.8" x2="343.40" y2="339.8" stroke="#606060" stroke-width="0.7"/>
<line x1="349.40" y1="342.8" x2="349.40" y2="341.2" stroke="#606060" stroke-width="0.7"/>
<line x1="355.40" y1="342.8" x2="355.40" y2="341.2" stroke="#606060" stroke-width="0.7"/>
<line x1="361.40" y1="342.8" x2="361.40" y2="341.2" stroke="#606060" stroke-width="0.7"/>
<line x1="367.40" y1="342.8" x2="367.40" y2="341.2" stroke="#606060" stroke-width="0.7"/>
<line x1="373.40" y1="342.8" x2="373.40" y2="339.8" stroke="#606060" stroke-width="0.7"/>
<line x1="379.40" y1="342.8" x2="379.40" y2="341.2" stroke="#606060" stroke-width="0.7"/>
<line x1="385.40" y1="342.8" x2="385.40" y2="341.2" stroke="#606060" stroke-width="0.7"/>
<line x1="391.40" y1="342.8" x2="391.40" y2="341.2" stroke="#606060" stroke-width="0.7"/>
<line x1="397.40" y1="342.8" x2="397.40" y2="341.2" stroke="#606060" stroke-width="0.7"/>
<line x1="403.40" y1="342.8" x2="403.40" y2="339.8" stroke="#606060" stroke-width="0.7"/>
<line x1="409.40" y1="342.8" x2="409.40" y2="341.2" stroke="#606060" stroke-width="0.7"/>
<line x1="415.40" y1="342.8" x2="415.40" y2="341.2" stroke="#606060" stroke-width="0.7"/>
<line x1="421.40" y1="342.8" x2="421.40" y2="341.2" stroke="#606060" stroke-width="0.7"/>
<line x1="427.40" y1="342.8" x2="427.40" y2="341.2" stroke="#606060" stroke-width="0.7"/>
<line x1="433.40" y1="342.8" x2="433.40" y2="339.8" stroke="#606060" stroke-width="0.7"/>
<line x1="439.40" y1="342.8" x2="439.40" y2="341.2" stroke="#606060" stroke-width="0.7"/>
<line x1="445.40" y1="342.8" x2="445.40" y2="341.2" stroke="#606060" stroke-width="0.7"/>
<line x1="451.40" y1="342.8" x2="451.40" y2="341.2" stroke="#606060" stroke-width="0.7"/>
<line x1="457.40" y1="342.8" x2="457.40" y2="341.2" stroke="#606060" stroke-width="0.7"/>
<line x1="463.40" y1="342.8" x2="463.40" y2="339.8" stroke="#606060" stroke-width="0.7"/>
<line x1="469.40" y1="342.8" x2="469.40" y2="341.2" stroke="#606060" stroke-width="0.7"/>
<line x1="475.40" y1="342.8" x2="475.40" y2="341.2" stroke="#606060" stroke-width="0.7"/>
<line x1="481.40" y1="342.8" x2="481.40" y2="341.2" stroke="#606060" stroke-width="0.7"/>
<line x1="487.40" y1="342.8" x2="487.40" y2="341.2" stroke="#606060" stroke-width="0.7"/>
<line x1="493.40" y1="342.8" x2="493.40" y2="339.8" stroke="#606060" stroke-width="0.7"/>
<line x1="499.40" y1="342.8" x2="499.40" y2="341.2" stroke="#606060" stroke-width="0.7"/>
<line x1="505.40" y1="342.8" x2="505.40" y2="341.2" stroke="#606060" stroke-width="0.7"/>
<line x1="511.40" y1="342.8" x2="511.40" y2="341.2" stroke="#606060" stroke-width="0.7"/>
<line x1="517.40" y1="342.8" x2="517.40" y2="341.2" stroke="#606060" stroke-width="0.7"/>
<line x1="523.40" y1="342.8" x2="523.40" y2="339.8" stroke="#606060" stroke-width="0.7"/>
<text class="bl" transform="translate(304.93,215.80) scale(0.8300,1)" style="font-size:12.8px;fill:#505050">1</text>
<text class="bl" transform="translate(286.10,241.90) scale(0.8300,1)" style="font-size:12.8px;fill:#505050">0.100</text>
<text class="bl" transform="translate(286.10,268.00) scale(0.8300,1)" style="font-size:12.8px;fill:#505050">0.010</text>
<text class="bl" transform="translate(286.33,294.10) scale(0.8300,1)" style="font-size:12.8px;fill:#505050">0.001</text>
<text class="bl" transform="translate(301.99,317.00) scale(1.0000,1)" style="font-size:8.5px;fill:#505050">−4</text>
<text class="bl" transform="translate(291.69,320.70) scale(0.8300,1)" style="font-size:12.8px;fill:#505050">10</text>
<text class="bl" transform="translate(302.19,343.10) scale(1.0000,1)" style="font-size:8.5px;fill:#505050">−5</text>
<text class="bl" transform="translate(291.89,346.80) scale(0.8300,1)" style="font-size:12.8px;fill:#505050">10</text>
<text class="bl" transform="translate(337.82,354.40) scale(0.8300,1)" style="font-size:12.8px;fill:#505050">10</text>
<text class="bl" transform="translate(368.06,354.40) scale(0.8300,1)" style="font-size:12.8px;fill:#505050">20</text>
<text class="bl" transform="translate(398.04,354.40) scale(0.8300,1)" style="font-size:12.8px;fill:#505050">30</text>
<text class="bl" transform="translate(428.19,354.40) scale(0.8300,1)" style="font-size:12.8px;fill:#505050">40</text>
<text class="bl" transform="translate(457.98,354.40) scale(0.8300,1)" style="font-size:12.8px;fill:#505050">50</text>
<text class="bl" transform="translate(488.06,354.40) scale(0.8300,1)" style="font-size:12.8px;fill:#505050">60</text>
<text class="bl" transform="translate(517.94,354.40) scale(0.8300,1)" style="font-size:12.8px;fill:#505050">70</text>
<clipPath id="c0"><rect x="52.5" y="44.5" width="214.0" height="134.8"/></clipPath>
<g clip-path="url(#c0)">
<circle cx="52.80" cy="51.50" r="1.95" fill="none" stroke="#4d74b0" stroke-width="1.15"/>
<circle cx="52.90" cy="54.60" r="1.95" fill="none" stroke="#4d74b0" stroke-width="1.15"/>
<circle cx="52.90" cy="57.90" r="1.95" fill="none" stroke="#4d74b0" stroke-width="1.15"/>
<circle cx="53.00" cy="61.50" r="1.95" fill="none" stroke="#4d74b0" stroke-width="1.15"/>
<circle cx="53.30" cy="65.60" r="1.95" fill="none" stroke="#4d74b0" stroke-width="1.15"/>
<circle cx="53.70" cy="68.50" r="1.95" fill="none" stroke="#4d74b0" stroke-width="1.15"/>
<circle cx="54.10" cy="71.30" r="1.95" fill="none" stroke="#4d74b0" stroke-width="1.15"/>
<circle cx="54.90" cy="75.80" r="1.95" fill="none" stroke="#4d74b0" stroke-width="1.15"/>
<circle cx="56.10" cy="79.10" r="1.95" fill="none" stroke="#4d74b0" stroke-width="1.15"/>
<circle cx="57.00" cy="81.90" r="1.95" fill="none" stroke="#4d74b0" stroke-width="1.15"/>
<circle cx="57.80" cy="84.40" r="1.95" fill="none" stroke="#4d74b0" stroke-width="1.15"/>
<circle cx="58.60" cy="86.80" r="1.95" fill="none" stroke="#4d74b0" stroke-width="1.15"/>
<circle cx="59.40" cy="88.90" r="1.95" fill="none" stroke="#4d74b0" stroke-width="1.15"/>
<circle cx="60.60" cy="90.90" r="1.95" fill="none" stroke="#4d74b0" stroke-width="1.15"/>
<circle cx="62.30" cy="92.90" r="1.95" fill="none" stroke="#4d74b0" stroke-width="1.15"/>
<circle cx="64.00" cy="95.40" r="1.95" fill="none" stroke="#4d74b0" stroke-width="1.15"/>
<circle cx="62.50" cy="97.30" r="1.95" fill="none" stroke="#4d74b0" stroke-width="1.15"/>
<circle cx="67.00" cy="99.60" r="1.95" fill="none" stroke="#4d74b0" stroke-width="1.15"/>
<circle cx="65.10" cy="100.40" r="1.95" fill="none" stroke="#4d74b0" stroke-width="1.15"/>
<circle cx="68.20" cy="103.00" r="1.95" fill="none" stroke="#4d74b0" stroke-width="1.15"/>
<circle cx="71.20" cy="104.50" r="1.95" fill="none" stroke="#4d74b0" stroke-width="1.15"/>
<circle cx="73.90" cy="106.80" r="1.95" fill="none" stroke="#4d74b0" stroke-width="1.15"/>
<circle cx="75.80" cy="109.10" r="1.95" fill="none" stroke="#4d74b0" stroke-width="1.15"/>
<circle cx="78.10" cy="108.40" r="1.95" fill="none" stroke="#4d74b0" stroke-width="1.15"/>
<circle cx="80.40" cy="110.60" r="1.95" fill="none" stroke="#4d74b0" stroke-width="1.15"/>
<circle cx="82.30" cy="111.00" r="1.95" fill="none" stroke="#4d74b0" stroke-width="1.15"/>
<circle cx="85.30" cy="114.60" r="1.95" fill="none" stroke="#4d74b0" stroke-width="1.15"/>
<circle cx="83.30" cy="118.30" r="1.95" fill="none" stroke="#4d74b0" stroke-width="1.15"/>
<circle cx="88.10" cy="118.70" r="1.95" fill="none" stroke="#4d74b0" stroke-width="1.15"/>
<circle cx="91.80" cy="118.70" r="1.95" fill="none" stroke="#4d74b0" stroke-width="1.15"/>
<circle cx="90.60" cy="122.30" r="1.95" fill="none" stroke="#4d74b0" stroke-width="1.15"/>
<circle cx="93.90" cy="123.60" r="1.95" fill="none" stroke="#4d74b0" stroke-width="1.15"/>
<circle cx="96.70" cy="121.10" r="1.95" fill="none" stroke="#4d74b0" stroke-width="1.15"/>
<circle cx="98.70" cy="122.70" r="1.95" fill="none" stroke="#4d74b0" stroke-width="1.15"/>
<circle cx="101.60" cy="120.70" r="1.95" fill="none" stroke="#4d74b0" stroke-width="1.15"/>
<circle cx="100.80" cy="125.60" r="1.95" fill="none" stroke="#4d74b0" stroke-width="1.15"/>
<circle cx="104.40" cy="124.00" r="1.95" fill="none" stroke="#4d74b0" stroke-width="1.15"/>
<circle cx="105.30" cy="126.80" r="1.95" fill="none" stroke="#4d74b0" stroke-width="1.15"/>
<circle cx="108.10" cy="129.30" r="1.95" fill="none" stroke="#4d74b0" stroke-width="1.15"/>
<circle cx="106.10" cy="132.10" r="1.95" fill="none" stroke="#4d74b0" stroke-width="1.15"/>
<circle cx="111.80" cy="128.50" r="1.95" fill="none" stroke="#4d74b0" stroke-width="1.15"/>
<circle cx="112.60" cy="131.70" r="1.95" fill="none" stroke="#4d74b0" stroke-width="1.15"/>
<circle cx="115.30" cy="127.70" r="1.95" fill="none" stroke="#4d74b0" stroke-width="1.15"/>
<circle cx="112.80" cy="129.00" r="1.95" fill="none" stroke="#4d74b0" stroke-width="1.15"/>
<circle cx="113.20" cy="133.00" r="1.95" fill="none" stroke="#4d74b0" stroke-width="1.15"/>
<circle cx="116.50" cy="132.60" r="1.95" fill="none" stroke="#4d74b0" stroke-width="1.15"/>
<circle cx="121.00" cy="131.40" r="1.95" fill="none" stroke="#4d74b0" stroke-width="1.15"/>
<circle cx="125.40" cy="132.20" r="1.95" fill="none" stroke="#4d74b0" stroke-width="1.15"/>
<circle cx="118.50" cy="135.10" r="1.95" fill="none" stroke="#4d74b0" stroke-width="1.15"/>
<circle cx="122.60" cy="136.70" r="1.95" fill="none" stroke="#4d74b0" stroke-width="1.15"/>
<circle cx="127.50" cy="135.90" r="1.95" fill="none" stroke="#4d74b0" stroke-width="1.15"/>
<circle cx="124.20" cy="139.20" r="1.95" fill="none" stroke="#4d74b0" stroke-width="1.15"/>
<circle cx="123.40" cy="142.00" r="1.95" fill="none" stroke="#4d74b0" stroke-width="1.15"/>
<circle cx="130.30" cy="137.10" r="1.95" fill="none" stroke="#4d74b0" stroke-width="1.15"/>
<circle cx="133.60" cy="137.10" r="1.95" fill="none" stroke="#4d74b0" stroke-width="1.15"/>
<circle cx="131.60" cy="140.00" r="1.95" fill="none" stroke="#4d74b0" stroke-width="1.15"/>
<circle cx="134.80" cy="141.60" r="1.95" fill="none" stroke="#4d74b0" stroke-width="1.15"/>
<circle cx="138.10" cy="140.00" r="1.95" fill="none" stroke="#4d74b0" stroke-width="1.15"/>
<circle cx="140.90" cy="137.10" r="1.95" fill="none" stroke="#4d74b0" stroke-width="1.15"/>
<circle cx="135.20" cy="146.10" r="1.95" fill="none" stroke="#4d74b0" stroke-width="1.15"/>
<circle cx="138.90" cy="144.40" r="1.95" fill="none" stroke="#4d74b0" stroke-width="1.15"/>
<circle cx="140.10" cy="148.10" r="1.95" fill="none" stroke="#4d74b0" stroke-width="1.15"/>
<circle cx="117.50" cy="129.70" r="1.95" fill="none" stroke="#4d74b0" stroke-width="1.15"/>
<circle cx="118.30" cy="132.10" r="1.95" fill="none" stroke="#4d74b0" stroke-width="1.15"/>
<circle cx="141.30" cy="137.30" r="1.95" fill="none" stroke="#4d74b0" stroke-width="1.15"/>
<circle cx="138.40" cy="140.10" r="1.95" fill="none" stroke="#4d74b0" stroke-width="1.15"/>
<circle cx="138.80" cy="143.80" r="1.95" fill="none" stroke="#4d74b0" stroke-width="1.15"/>
<circle cx="144.90" cy="144.20" r="1.95" fill="none" stroke="#4d74b0" stroke-width="1.15"/>
<circle cx="141.70" cy="146.30" r="1.95" fill="none" stroke="#4d74b0" stroke-width="1.15"/>
<circle cx="139.60" cy="148.30" r="1.95" fill="none" stroke="#4d74b0" stroke-width="1.15"/>
<circle cx="148.60" cy="147.50" r="1.95" fill="none" stroke="#4d74b0" stroke-width="1.15"/>
<circle cx="144.90" cy="150.30" r="1.95" fill="none" stroke="#4d74b0" stroke-width="1.15"/>
<circle cx="155.50" cy="147.50" r="1.95" fill="none" stroke="#4d74b0" stroke-width="1.15"/>
<circle cx="163.30" cy="147.50" r="1.95" fill="none" stroke="#4d74b0" stroke-width="1.15"/>
<circle cx="151.00" cy="150.70" r="1.95" fill="none" stroke="#4d74b0" stroke-width="1.15"/>
<circle cx="160.00" cy="150.70" r="1.95" fill="none" stroke="#4d74b0" stroke-width="1.15"/>
<circle cx="154.70" cy="153.60" r="1.95" fill="none" stroke="#4d74b0" stroke-width="1.15"/>
<circle cx="158.40" cy="154.80" r="1.95" fill="none" stroke="#4d74b0" stroke-width="1.15"/>
<circle cx="164.40" cy="148.10" r="1.95" fill="none" stroke="#4d74b0" stroke-width="1.15"/>
<circle cx="167.70" cy="153.90" r="1.95" fill="none" stroke="#4d74b0" stroke-width="1.15"/>
<circle cx="173.80" cy="150.20" r="1.95" fill="none" stroke="#4d74b0" stroke-width="1.15"/>
<circle cx="177.40" cy="153.90" r="1.95" fill="none" stroke="#4d74b0" stroke-width="1.15"/>
<circle cx="151.40" cy="158.60" r="1.95" fill="none" stroke="#4d74b0" stroke-width="1.15"/>
<circle cx="157.20" cy="158.60" r="1.95" fill="none" stroke="#4d74b0" stroke-width="1.15"/>
<circle cx="162.50" cy="158.60" r="1.95" fill="none" stroke="#4d74b0" stroke-width="1.15"/>
<circle cx="166.10" cy="158.60" r="1.95" fill="none" stroke="#4d74b0" stroke-width="1.15"/>
<circle cx="171.70" cy="158.60" r="1.95" fill="none" stroke="#4d74b0" stroke-width="1.15"/>
<circle cx="174.60" cy="158.60" r="1.95" fill="none" stroke="#4d74b0" stroke-width="1.15"/>
<circle cx="177.90" cy="158.60" r="1.95" fill="none" stroke="#4d74b0" stroke-width="1.15"/>
<circle cx="183.20" cy="158.60" r="1.95" fill="none" stroke="#4d74b0" stroke-width="1.15"/>
<circle cx="190.90" cy="158.60" r="1.95" fill="none" stroke="#4d74b0" stroke-width="1.15"/>
<circle cx="197.40" cy="158.60" r="1.95" fill="none" stroke="#4d74b0" stroke-width="1.15"/>
<circle cx="149.80" cy="166.30" r="1.95" fill="none" stroke="#4d74b0" stroke-width="1.15"/>
<circle cx="159.40" cy="166.30" r="1.95" fill="none" stroke="#4d74b0" stroke-width="1.15"/>
<circle cx="161.50" cy="166.30" r="1.95" fill="none" stroke="#4d74b0" stroke-width="1.15"/>
<circle cx="169.30" cy="166.30" r="1.95" fill="none" stroke="#4d74b0" stroke-width="1.15"/>
<circle cx="171.70" cy="166.30" r="1.95" fill="none" stroke="#4d74b0" stroke-width="1.15"/>
<circle cx="176.20" cy="166.30" r="1.95" fill="none" stroke="#4d74b0" stroke-width="1.15"/>
<circle cx="185.60" cy="166.30" r="1.95" fill="none" stroke="#4d74b0" stroke-width="1.15"/>
<circle cx="188.40" cy="166.30" r="1.95" fill="none" stroke="#4d74b0" stroke-width="1.15"/>
<circle cx="191.70" cy="166.30" r="1.95" fill="none" stroke="#4d74b0" stroke-width="1.15"/>
<circle cx="195.00" cy="166.30" r="1.95" fill="none" stroke="#4d74b0" stroke-width="1.15"/>
<circle cx="198.60" cy="166.30" r="1.95" fill="none" stroke="#4d74b0" stroke-width="1.15"/>
<circle cx="211.40" cy="166.30" r="1.95" fill="none" stroke="#4d74b0" stroke-width="1.15"/>
<circle cx="214.80" cy="166.30" r="1.95" fill="none" stroke="#4d74b0" stroke-width="1.15"/>
<circle cx="218.70" cy="166.30" r="1.95" fill="none" stroke="#4d74b0" stroke-width="1.15"/>
<circle cx="243.50" cy="166.30" r="1.95" fill="none" stroke="#4d74b0" stroke-width="1.15"/>
<circle cx="57.07" cy="82.31" r="1.95" fill="none" stroke="#4d74b0" stroke-width="1.15"/>
<circle cx="57.12" cy="84.61" r="1.95" fill="none" stroke="#4d74b0" stroke-width="1.15"/>
<circle cx="58.09" cy="86.35" r="1.95" fill="none" stroke="#4d74b0" stroke-width="1.15"/>
<circle cx="60.13" cy="88.44" r="1.95" fill="none" stroke="#4d74b0" stroke-width="1.15"/>
<circle cx="61.53" cy="90.89" r="1.95" fill="none" stroke="#4d74b0" stroke-width="1.15"/>
<circle cx="63.81" cy="92.84" r="1.95" fill="none" stroke="#4d74b0" stroke-width="1.15"/>
<circle cx="63.37" cy="95.37" r="1.95" fill="none" stroke="#4d74b0" stroke-width="1.15"/>
<circle cx="66.96" cy="97.26" r="1.95" fill="none" stroke="#4d74b0" stroke-width="1.15"/>
<circle cx="66.69" cy="100.61" r="1.95" fill="none" stroke="#4d74b0" stroke-width="1.15"/>
<circle cx="69.79" cy="103.37" r="1.95" fill="none" stroke="#4d74b0" stroke-width="1.15"/>
<circle cx="70.76" cy="106.58" r="1.95" fill="none" stroke="#4d74b0" stroke-width="1.15"/>
<circle cx="72.62" cy="107.31" r="1.95" fill="none" stroke="#4d74b0" stroke-width="1.15"/>
<circle cx="76.87" cy="105.94" r="1.95" fill="none" stroke="#4d74b0" stroke-width="1.15"/>
<circle cx="77.94" cy="107.95" r="1.95" fill="none" stroke="#4d74b0" stroke-width="1.15"/>
<circle cx="81.33" cy="109.39" r="1.95" fill="none" stroke="#4d74b0" stroke-width="1.15"/>
<circle cx="82.67" cy="113.26" r="1.95" fill="none" stroke="#4d74b0" stroke-width="1.15"/>
<circle cx="85.23" cy="114.26" r="1.95" fill="none" stroke="#4d74b0" stroke-width="1.15"/>
<circle cx="88.33" cy="112.98" r="1.95" fill="none" stroke="#4d74b0" stroke-width="1.15"/>
<circle cx="88.41" cy="117.16" r="1.95" fill="none" stroke="#4d74b0" stroke-width="1.15"/>
<circle cx="91.90" cy="116.96" r="1.95" fill="none" stroke="#4d74b0" stroke-width="1.15"/>
<circle cx="94.17" cy="119.34" r="1.95" fill="none" stroke="#4d74b0" stroke-width="1.15"/>
<circle cx="95.26" cy="122.31" r="1.95" fill="none" stroke="#4d74b0" stroke-width="1.15"/>
<circle cx="99.85" cy="121.43" r="1.95" fill="none" stroke="#4d74b0" stroke-width="1.15"/>
<circle cx="101.87" cy="124.34" r="1.95" fill="none" stroke="#4d74b0" stroke-width="1.15"/>
<circle cx="104.72" cy="127.23" r="1.95" fill="none" stroke="#4d74b0" stroke-width="1.15"/>
<circle cx="106.52" cy="129.69" r="1.95" fill="none" stroke="#4d74b0" stroke-width="1.15"/>
<circle cx="109.67" cy="127.61" r="1.95" fill="none" stroke="#4d74b0" stroke-width="1.15"/>
<circle cx="113.58" cy="127.65" r="1.95" fill="none" stroke="#4d74b0" stroke-width="1.15"/>
<circle cx="116.57" cy="128.24" r="1.95" fill="none" stroke="#4d74b0" stroke-width="1.15"/>
<circle cx="118.25" cy="133.18" r="1.95" fill="none" stroke="#4d74b0" stroke-width="1.15"/>
<circle cx="121.03" cy="134.83" r="1.95" fill="none" stroke="#4d74b0" stroke-width="1.15"/>
<circle cx="123.77" cy="134.74" r="1.95" fill="none" stroke="#4d74b0" stroke-width="1.15"/>
<circle cx="126.91" cy="135.39" r="1.95" fill="none" stroke="#4d74b0" stroke-width="1.15"/>
<circle cx="128.87" cy="137.97" r="1.95" fill="none" stroke="#4d74b0" stroke-width="1.15"/>
<circle cx="133.42" cy="137.91" r="1.95" fill="none" stroke="#4d74b0" stroke-width="1.15"/>
<circle cx="137.53" cy="137.41" r="1.95" fill="none" stroke="#4d74b0" stroke-width="1.15"/>
<circle cx="139.07" cy="141.94" r="1.95" fill="none" stroke="#4d74b0" stroke-width="1.15"/>
</g>
<clipPath id="c1"><rect x="313.1" y="44.5" width="214.0" height="134.8"/></clipPath>
<g clip-path="url(#c1)">
<circle cx="313.90" cy="69.60" r="1.95" fill="none" stroke="#4d74b0" stroke-width="1.15"/>
<circle cx="315.10" cy="79.40" r="1.95" fill="none" stroke="#4d74b0" stroke-width="1.15"/>
<circle cx="317.20" cy="85.90" r="1.95" fill="none" stroke="#4d74b0" stroke-width="1.15"/>
<circle cx="318.90" cy="91.00" r="1.95" fill="none" stroke="#4d74b0" stroke-width="1.15"/>
<circle cx="320.90" cy="94.80" r="1.95" fill="none" stroke="#4d74b0" stroke-width="1.15"/>
<circle cx="322.80" cy="98.30" r="1.95" fill="none" stroke="#4d74b0" stroke-width="1.15"/>
<circle cx="324.50" cy="102.60" r="1.95" fill="none" stroke="#4d74b0" stroke-width="1.15"/>
<circle cx="326.70" cy="105.50" r="1.95" fill="none" stroke="#4d74b0" stroke-width="1.15"/>
<circle cx="328.40" cy="107.60" r="1.95" fill="none" stroke="#4d74b0" stroke-width="1.15"/>
<circle cx="330.40" cy="109.90" r="1.95" fill="none" stroke="#4d74b0" stroke-width="1.15"/>
<circle cx="332.40" cy="111.60" r="1.95" fill="none" stroke="#4d74b0" stroke-width="1.15"/>
<circle cx="334.40" cy="113.60" r="1.95" fill="none" stroke="#4d74b0" stroke-width="1.15"/>
<circle cx="336.30" cy="115.60" r="1.95" fill="none" stroke="#4d74b0" stroke-width="1.15"/>
<circle cx="338.50" cy="117.20" r="1.95" fill="none" stroke="#4d74b0" stroke-width="1.15"/>
<circle cx="340.80" cy="118.40" r="1.95" fill="none" stroke="#4d74b0" stroke-width="1.15"/>
<circle cx="343.10" cy="120.70" r="1.95" fill="none" stroke="#4d74b0" stroke-width="1.15"/>
<circle cx="344.80" cy="122.00" r="1.95" fill="none" stroke="#4d74b0" stroke-width="1.15"/>
<circle cx="346.40" cy="123.90" r="1.95" fill="none" stroke="#4d74b0" stroke-width="1.15"/>
<circle cx="349.30" cy="125.60" r="1.95" fill="none" stroke="#4d74b0" stroke-width="1.15"/>
<circle cx="351.90" cy="126.90" r="1.95" fill="none" stroke="#4d74b0" stroke-width="1.15"/>
<circle cx="354.90" cy="127.50" r="1.95" fill="none" stroke="#4d74b0" stroke-width="1.15"/>
<circle cx="357.80" cy="126.60" r="1.95" fill="none" stroke="#4d74b0" stroke-width="1.15"/>
<circle cx="347.60" cy="127.90" r="1.95" fill="none" stroke="#4d74b0" stroke-width="1.15"/>
<circle cx="355.60" cy="129.20" r="1.95" fill="none" stroke="#4d74b0" stroke-width="1.15"/>
<circle cx="358.20" cy="131.50" r="1.95" fill="none" stroke="#4d74b0" stroke-width="1.15"/>
<circle cx="360.70" cy="130.30" r="1.95" fill="none" stroke="#4d74b0" stroke-width="1.15"/>
<circle cx="363.10" cy="132.30" r="1.95" fill="none" stroke="#4d74b0" stroke-width="1.15"/>
<circle cx="365.60" cy="131.50" r="1.95" fill="none" stroke="#4d74b0" stroke-width="1.15"/>
<circle cx="366.80" cy="134.40" r="1.95" fill="none" stroke="#4d74b0" stroke-width="1.15"/>
<circle cx="368.00" cy="137.60" r="1.95" fill="none" stroke="#4d74b0" stroke-width="1.15"/>
<circle cx="370.40" cy="132.70" r="1.95" fill="none" stroke="#4d74b0" stroke-width="1.15"/>
<circle cx="372.10" cy="137.60" r="1.95" fill="none" stroke="#4d74b0" stroke-width="1.15"/>
<circle cx="374.10" cy="134.00" r="1.95" fill="none" stroke="#4d74b0" stroke-width="1.15"/>
<circle cx="374.90" cy="137.60" r="1.95" fill="none" stroke="#4d74b0" stroke-width="1.15"/>
<circle cx="377.00" cy="140.10" r="1.95" fill="none" stroke="#4d74b0" stroke-width="1.15"/>
<circle cx="379.00" cy="137.60" r="1.95" fill="none" stroke="#4d74b0" stroke-width="1.15"/>
<circle cx="381.00" cy="134.80" r="1.95" fill="none" stroke="#4d74b0" stroke-width="1.15"/>
<circle cx="383.50" cy="136.00" r="1.95" fill="none" stroke="#4d74b0" stroke-width="1.15"/>
<circle cx="385.10" cy="138.40" r="1.95" fill="none" stroke="#4d74b0" stroke-width="1.15"/>
<circle cx="386.50" cy="140.30" r="1.95" fill="none" stroke="#4d74b0" stroke-width="1.15"/>
<circle cx="389.00" cy="141.90" r="1.95" fill="none" stroke="#4d74b0" stroke-width="1.15"/>
<circle cx="390.60" cy="146.00" r="1.95" fill="none" stroke="#4d74b0" stroke-width="1.15"/>
<circle cx="392.20" cy="145.10" r="1.95" fill="none" stroke="#4d74b0" stroke-width="1.15"/>
<circle cx="393.80" cy="154.10" r="1.95" fill="none" stroke="#4d74b0" stroke-width="1.15"/>
<circle cx="396.30" cy="145.10" r="1.95" fill="none" stroke="#4d74b0" stroke-width="1.15"/>
<circle cx="398.70" cy="146.80" r="1.95" fill="none" stroke="#4d74b0" stroke-width="1.15"/>
<circle cx="399.60" cy="150.80" r="1.95" fill="none" stroke="#4d74b0" stroke-width="1.15"/>
<circle cx="402.80" cy="147.60" r="1.95" fill="none" stroke="#4d74b0" stroke-width="1.15"/>
<circle cx="405.30" cy="150.00" r="1.95" fill="none" stroke="#4d74b0" stroke-width="1.15"/>
<circle cx="406.90" cy="151.70" r="1.95" fill="none" stroke="#4d74b0" stroke-width="1.15"/>
<circle cx="408.50" cy="149.20" r="1.95" fill="none" stroke="#4d74b0" stroke-width="1.15"/>
<circle cx="410.10" cy="156.50" r="1.95" fill="none" stroke="#4d74b0" stroke-width="1.15"/>
<circle cx="412.60" cy="152.50" r="1.95" fill="none" stroke="#4d74b0" stroke-width="1.15"/>
<circle cx="415.80" cy="148.40" r="1.95" fill="none" stroke="#4d74b0" stroke-width="1.15"/>
<circle cx="417.50" cy="152.50" r="1.95" fill="none" stroke="#4d74b0" stroke-width="1.15"/>
<circle cx="419.90" cy="152.50" r="1.95" fill="none" stroke="#4d74b0" stroke-width="1.15"/>
<circle cx="421.50" cy="145.10" r="1.95" fill="none" stroke="#4d74b0" stroke-width="1.15"/>
<circle cx="423.20" cy="154.10" r="1.95" fill="none" stroke="#4d74b0" stroke-width="1.15"/>
<circle cx="425.60" cy="147.60" r="1.95" fill="none" stroke="#4d74b0" stroke-width="1.15"/>
<circle cx="428.90" cy="149.20" r="1.95" fill="none" stroke="#4d74b0" stroke-width="1.15"/>
<circle cx="430.50" cy="152.50" r="1.95" fill="none" stroke="#4d74b0" stroke-width="1.15"/>
<circle cx="433.80" cy="149.20" r="1.95" fill="none" stroke="#4d74b0" stroke-width="1.15"/>
<circle cx="436.20" cy="150.80" r="1.95" fill="none" stroke="#4d74b0" stroke-width="1.15"/>
<circle cx="432.10" cy="162.30" r="1.95" fill="none" stroke="#4d74b0" stroke-width="1.15"/>
<circle cx="437.80" cy="162.30" r="1.95" fill="none" stroke="#4d74b0" stroke-width="1.15"/>
<circle cx="439.50" cy="159.00" r="1.95" fill="none" stroke="#4d74b0" stroke-width="1.15"/>
<circle cx="441.60" cy="154.10" r="1.95" fill="none" stroke="#4d74b0" stroke-width="1.15"/>
<circle cx="443.50" cy="159.00" r="1.95" fill="none" stroke="#4d74b0" stroke-width="1.15"/>
<circle cx="446.00" cy="159.00" r="1.95" fill="none" stroke="#4d74b0" stroke-width="1.15"/>
<circle cx="448.40" cy="162.30" r="1.95" fill="none" stroke="#4d74b0" stroke-width="1.15"/>
<circle cx="450.90" cy="152.80" r="1.95" fill="none" stroke="#4d74b0" stroke-width="1.15"/>
<circle cx="452.70" cy="162.30" r="1.95" fill="none" stroke="#4d74b0" stroke-width="1.15"/>
<circle cx="455.00" cy="162.30" r="1.95" fill="none" stroke="#4d74b0" stroke-width="1.15"/>
<circle cx="459.40" cy="154.10" r="1.95" fill="none" stroke="#4d74b0" stroke-width="1.15"/>
<circle cx="461.70" cy="156.10" r="1.95" fill="none" stroke="#4d74b0" stroke-width="1.15"/>
<circle cx="465.50" cy="156.40" r="1.95" fill="none" stroke="#4d74b0" stroke-width="1.15"/>
<circle cx="467.60" cy="156.40" r="1.95" fill="none" stroke="#4d74b0" stroke-width="1.15"/>
<circle cx="470.40" cy="159.30" r="1.95" fill="none" stroke="#4d74b0" stroke-width="1.15"/>
<circle cx="474.40" cy="162.30" r="1.95" fill="none" stroke="#4d74b0" stroke-width="1.15"/>
<circle cx="463.80" cy="167.10" r="1.95" fill="none" stroke="#4d74b0" stroke-width="1.15"/>
<circle cx="472.80" cy="167.10" r="1.95" fill="none" stroke="#4d74b0" stroke-width="1.15"/>
<circle cx="480.10" cy="167.10" r="1.95" fill="none" stroke="#4d74b0" stroke-width="1.15"/>
<circle cx="485.50" cy="167.10" r="1.95" fill="none" stroke="#4d74b0" stroke-width="1.15"/>
<circle cx="491.10" cy="167.10" r="1.95" fill="none" stroke="#4d74b0" stroke-width="1.15"/>
<circle cx="492.70" cy="167.10" r="1.95" fill="none" stroke="#4d74b0" stroke-width="1.15"/>
<circle cx="501.80" cy="167.10" r="1.95" fill="none" stroke="#4d74b0" stroke-width="1.15"/>
<circle cx="496.10" cy="162.30" r="1.95" fill="none" stroke="#4d74b0" stroke-width="1.15"/>
<circle cx="498.60" cy="162.30" r="1.95" fill="none" stroke="#4d74b0" stroke-width="1.15"/>
<circle cx="511.10" cy="162.30" r="1.95" fill="none" stroke="#4d74b0" stroke-width="1.15"/>
<circle cx="446.80" cy="174.80" r="1.95" fill="none" stroke="#4d74b0" stroke-width="1.15"/>
<circle cx="458.10" cy="174.80" r="1.95" fill="none" stroke="#4d74b0" stroke-width="1.15"/>
<circle cx="469.20" cy="174.80" r="1.95" fill="none" stroke="#4d74b0" stroke-width="1.15"/>
<circle cx="476.40" cy="174.80" r="1.95" fill="none" stroke="#4d74b0" stroke-width="1.15"/>
<circle cx="483.40" cy="174.80" r="1.95" fill="none" stroke="#4d74b0" stroke-width="1.15"/>
<circle cx="494.50" cy="174.80" r="1.95" fill="none" stroke="#4d74b0" stroke-width="1.15"/>
<circle cx="505.40" cy="174.80" r="1.95" fill="none" stroke="#4d74b0" stroke-width="1.15"/>
<circle cx="509.50" cy="174.80" r="1.95" fill="none" stroke="#4d74b0" stroke-width="1.15"/>
<circle cx="520.00" cy="174.80" r="1.95" fill="none" stroke="#4d74b0" stroke-width="1.15"/>
</g>
<clipPath id="c2"><rect x="51.0" y="208.3" width="214.0" height="134.5"/></clipPath>
<g clip-path="url(#c2)">
<circle cx="51.30" cy="213.40" r="1.95" fill="none" stroke="#4d74b0" stroke-width="1.15"/>
<circle cx="53.20" cy="245.10" r="1.95" fill="none" stroke="#4d74b0" stroke-width="1.15"/>
<circle cx="56.20" cy="258.40" r="1.95" fill="none" stroke="#4d74b0" stroke-width="1.15"/>
<circle cx="59.00" cy="266.20" r="1.95" fill="none" stroke="#4d74b0" stroke-width="1.15"/>
<circle cx="62.20" cy="272.40" r="1.95" fill="none" stroke="#4d74b0" stroke-width="1.15"/>
<circle cx="65.50" cy="276.80" r="1.95" fill="none" stroke="#4d74b0" stroke-width="1.15"/>
<circle cx="68.70" cy="279.50" r="1.95" fill="none" stroke="#4d74b0" stroke-width="1.15"/>
<circle cx="71.20" cy="282.10" r="1.95" fill="none" stroke="#4d74b0" stroke-width="1.15"/>
<circle cx="73.60" cy="284.10" r="1.95" fill="none" stroke="#4d74b0" stroke-width="1.15"/>
<circle cx="76.10" cy="286.50" r="1.95" fill="none" stroke="#4d74b0" stroke-width="1.15"/>
<circle cx="78.50" cy="290.60" r="1.95" fill="none" stroke="#4d74b0" stroke-width="1.15"/>
<circle cx="82.60" cy="288.70" r="1.95" fill="none" stroke="#4d74b0" stroke-width="1.15"/>
<circle cx="85.00" cy="292.30" r="1.95" fill="none" stroke="#4d74b0" stroke-width="1.15"/>
<circle cx="88.30" cy="293.90" r="1.95" fill="none" stroke="#4d74b0" stroke-width="1.15"/>
<circle cx="91.50" cy="295.50" r="1.95" fill="none" stroke="#4d74b0" stroke-width="1.15"/>
<circle cx="94.80" cy="301.20" r="1.95" fill="none" stroke="#4d74b0" stroke-width="1.15"/>
<circle cx="98.10" cy="298.00" r="1.95" fill="none" stroke="#4d74b0" stroke-width="1.15"/>
<circle cx="101.30" cy="301.60" r="1.95" fill="none" stroke="#4d74b0" stroke-width="1.15"/>
<circle cx="104.60" cy="300.00" r="1.95" fill="none" stroke="#4d74b0" stroke-width="1.15"/>
<circle cx="107.50" cy="303.30" r="1.95" fill="none" stroke="#4d74b0" stroke-width="1.15"/>
<circle cx="111.10" cy="302.70" r="1.95" fill="none" stroke="#4d74b0" stroke-width="1.15"/>
<circle cx="114.30" cy="304.20" r="1.95" fill="none" stroke="#4d74b0" stroke-width="1.15"/>
<circle cx="117.10" cy="307.00" r="1.95" fill="none" stroke="#4d74b0" stroke-width="1.15"/>
<circle cx="120.40" cy="308.60" r="1.95" fill="none" stroke="#4d74b0" stroke-width="1.15"/>
<circle cx="124.10" cy="308.10" r="1.95" fill="none" stroke="#4d74b0" stroke-width="1.15"/>
<circle cx="126.90" cy="309.80" r="1.95" fill="none" stroke="#4d74b0" stroke-width="1.15"/>
<circle cx="130.10" cy="308.10" r="1.95" fill="none" stroke="#4d74b0" stroke-width="1.15"/>
<circle cx="133.40" cy="311.90" r="1.95" fill="none" stroke="#4d74b0" stroke-width="1.15"/>
<circle cx="137.10" cy="311.90" r="1.95" fill="none" stroke="#4d74b0" stroke-width="1.15"/>
<circle cx="139.90" cy="316.30" r="1.95" fill="none" stroke="#4d74b0" stroke-width="1.15"/>
<circle cx="143.20" cy="314.30" r="1.95" fill="none" stroke="#4d74b0" stroke-width="1.15"/>
<circle cx="146.40" cy="316.00" r="1.95" fill="none" stroke="#4d74b0" stroke-width="1.15"/>
<circle cx="149.70" cy="318.40" r="1.95" fill="none" stroke="#4d74b0" stroke-width="1.15"/>
<circle cx="152.50" cy="310.70" r="1.95" fill="none" stroke="#4d74b0" stroke-width="1.15"/>
<circle cx="156.20" cy="313.00" r="1.95" fill="none" stroke="#4d74b0" stroke-width="1.15"/>
<circle cx="159.00" cy="322.50" r="1.95" fill="none" stroke="#4d74b0" stroke-width="1.15"/>
<circle cx="162.70" cy="322.80" r="1.95" fill="none" stroke="#4d74b0" stroke-width="1.15"/>
<circle cx="165.50" cy="316.00" r="1.95" fill="none" stroke="#4d74b0" stroke-width="1.15"/>
<circle cx="168.80" cy="318.90" r="1.95" fill="none" stroke="#4d74b0" stroke-width="1.15"/>
<circle cx="171.80" cy="325.60" r="1.95" fill="none" stroke="#4d74b0" stroke-width="1.15"/>
<circle cx="175.30" cy="320.00" r="1.95" fill="none" stroke="#4d74b0" stroke-width="1.15"/>
<circle cx="178.30" cy="324.20" r="1.95" fill="none" stroke="#4d74b0" stroke-width="1.15"/>
<circle cx="181.70" cy="330.50" r="1.95" fill="none" stroke="#4d74b0" stroke-width="1.15"/>
<circle cx="184.70" cy="322.90" r="1.95" fill="none" stroke="#4d74b0" stroke-width="1.15"/>
<circle cx="188.30" cy="324.20" r="1.95" fill="none" stroke="#4d74b0" stroke-width="1.15"/>
<circle cx="191.70" cy="330.50" r="1.95" fill="none" stroke="#4d74b0" stroke-width="1.15"/>
<circle cx="194.50" cy="328.00" r="1.95" fill="none" stroke="#4d74b0" stroke-width="1.15"/>
<circle cx="198.30" cy="328.00" r="1.95" fill="none" stroke="#4d74b0" stroke-width="1.15"/>
<circle cx="201.10" cy="330.50" r="1.95" fill="none" stroke="#4d74b0" stroke-width="1.15"/>
<circle cx="204.30" cy="328.00" r="1.95" fill="none" stroke="#4d74b0" stroke-width="1.15"/>
<circle cx="207.70" cy="330.50" r="1.95" fill="none" stroke="#4d74b0" stroke-width="1.15"/>
<circle cx="210.60" cy="334.20" r="1.95" fill="none" stroke="#4d74b0" stroke-width="1.15"/>
<circle cx="213.80" cy="330.80" r="1.95" fill="none" stroke="#4d74b0" stroke-width="1.15"/>
<circle cx="217.20" cy="334.20" r="1.95" fill="none" stroke="#4d74b0" stroke-width="1.15"/>
<circle cx="220.00" cy="330.50" r="1.95" fill="none" stroke="#4d74b0" stroke-width="1.15"/>
<circle cx="223.80" cy="330.50" r="1.95" fill="none" stroke="#4d74b0" stroke-width="1.15"/>
<circle cx="226.60" cy="324.20" r="1.95" fill="none" stroke="#4d74b0" stroke-width="1.15"/>
<circle cx="230.00" cy="334.20" r="1.95" fill="none" stroke="#4d74b0" stroke-width="1.15"/>
<circle cx="236.40" cy="338.80" r="1.95" fill="none" stroke="#4d74b0" stroke-width="1.15"/>
<circle cx="239.40" cy="325.80" r="1.95" fill="none" stroke="#4d74b0" stroke-width="1.15"/>
<circle cx="249.20" cy="330.50" r="1.95" fill="none" stroke="#4d74b0" stroke-width="1.15"/>
<circle cx="255.80" cy="338.80" r="1.95" fill="none" stroke="#4d74b0" stroke-width="1.15"/>
</g>
<clipPath id="c3"><rect x="314.0" y="208.3" width="214.0" height="134.5"/></clipPath>
<g clip-path="url(#c3)">
<circle cx="313.70" cy="220.70" r="1.95" fill="none" stroke="#4d74b0" stroke-width="1.15"/>
<circle cx="318.60" cy="270.80" r="1.95" fill="none" stroke="#4d74b0" stroke-width="1.15"/>
<circle cx="325.50" cy="283.90" r="1.95" fill="none" stroke="#4d74b0" stroke-width="1.15"/>
<circle cx="332.00" cy="290.40" r="1.95" fill="none" stroke="#4d74b0" stroke-width="1.15"/>
<circle cx="338.00" cy="295.90" r="1.95" fill="none" stroke="#4d74b0" stroke-width="1.15"/>
<circle cx="344.20" cy="300.50" r="1.95" fill="none" stroke="#4d74b0" stroke-width="1.15"/>
<circle cx="350.70" cy="305.40" r="1.95" fill="none" stroke="#4d74b0" stroke-width="1.15"/>
<circle cx="357.30" cy="306.70" r="1.95" fill="none" stroke="#4d74b0" stroke-width="1.15"/>
<circle cx="363.40" cy="307.80" r="1.95" fill="none" stroke="#4d74b0" stroke-width="1.15"/>
<circle cx="369.70" cy="309.00" r="1.95" fill="none" stroke="#4d74b0" stroke-width="1.15"/>
<circle cx="376.10" cy="315.10" r="1.95" fill="none" stroke="#4d74b0" stroke-width="1.15"/>
<circle cx="382.40" cy="312.60" r="1.95" fill="none" stroke="#4d74b0" stroke-width="1.15"/>
<circle cx="388.90" cy="317.50" r="1.95" fill="none" stroke="#4d74b0" stroke-width="1.15"/>
<circle cx="395.30" cy="316.80" r="1.95" fill="none" stroke="#4d74b0" stroke-width="1.15"/>
<circle cx="401.60" cy="319.70" r="1.95" fill="none" stroke="#4d74b0" stroke-width="1.15"/>
<circle cx="408.10" cy="321.40" r="1.95" fill="none" stroke="#4d74b0" stroke-width="1.15"/>
<circle cx="414.30" cy="327.40" r="1.95" fill="none" stroke="#4d74b0" stroke-width="1.15"/>
<circle cx="420.60" cy="324.50" r="1.95" fill="none" stroke="#4d74b0" stroke-width="1.15"/>
<circle cx="427.10" cy="328.20" r="1.95" fill="none" stroke="#4d74b0" stroke-width="1.15"/>
<circle cx="433.40" cy="328.70" r="1.95" fill="none" stroke="#4d74b0" stroke-width="1.15"/>
<circle cx="439.80" cy="326.60" r="1.95" fill="none" stroke="#4d74b0" stroke-width="1.15"/>
<circle cx="446.20" cy="336.30" r="1.95" fill="none" stroke="#4d74b0" stroke-width="1.15"/>
<circle cx="452.20" cy="331.90" r="1.95" fill="none" stroke="#4d74b0" stroke-width="1.15"/>
<circle cx="458.30" cy="333.10" r="1.95" fill="none" stroke="#4d74b0" stroke-width="1.15"/>
<circle cx="465.10" cy="333.10" r="1.95" fill="none" stroke="#4d74b0" stroke-width="1.15"/>
<circle cx="471.40" cy="336.50" r="1.95" fill="none" stroke="#4d74b0" stroke-width="1.15"/>
<circle cx="477.70" cy="334.80" r="1.95" fill="none" stroke="#4d74b0" stroke-width="1.15"/>
<circle cx="484.20" cy="338.20" r="1.95" fill="none" stroke="#4d74b0" stroke-width="1.15"/>
<circle cx="490.40" cy="336.50" r="1.95" fill="none" stroke="#4d74b0" stroke-width="1.15"/>
<circle cx="496.90" cy="336.50" r="1.95" fill="none" stroke="#4d74b0" stroke-width="1.15"/>
<circle cx="515.60" cy="334.80" r="1.95" fill="none" stroke="#4d74b0" stroke-width="1.15"/>
<circle cx="522.00" cy="336.50" r="1.95" fill="none" stroke="#4d74b0" stroke-width="1.15"/>
</g>
<path d="M52.50,48.60 C52.55,49.50 52.70,52.10 52.80,54.00 C52.90,55.90 52.98,58.00 53.10,60.00 C53.22,62.00 53.33,64.12 53.50,66.00 C53.67,67.88 53.85,69.65 54.10,71.30 C54.35,72.95 54.67,74.57 55.00,75.90 C55.33,77.23 55.63,77.88 56.10,79.30 C56.57,80.72 57.22,82.85 57.80,84.40 C58.38,85.95 58.85,87.18 59.60,88.60 C60.35,90.02 61.23,91.33 62.30,92.90 C63.37,94.47 64.55,96.23 66.00,98.00 C67.45,99.77 69.00,101.73 71.00,103.50 C73.00,105.27 75.50,106.85 78.00,108.60 C80.50,110.35 83.17,112.18 86.00,114.00 C88.83,115.82 91.83,117.70 95.00,119.50 C98.17,121.30 101.67,123.17 105.00,124.80 C108.33,126.43 111.67,127.88 115.00,129.30 C118.33,130.72 121.67,131.93 125.00,133.30 C128.33,134.67 131.67,135.92 135.00,137.50 C138.33,139.08 141.67,141.05 145.00,142.80 C148.33,144.55 151.67,146.33 155.00,148.00 C158.33,149.67 161.18,151.08 165.00,152.80 C168.82,154.52 173.73,156.42 177.90,158.30 C182.07,160.18 186.07,162.28 190.00,164.10 C193.93,165.92 198.00,167.60 201.50,169.20 C205.00,170.80 207.83,172.02 211.00,173.70 C214.17,175.38 218.92,178.37 220.50,179.30" fill="none" stroke="#3f64a8" stroke-width="1.0"/>
<path d="M312.90,48.90 C312.97,49.92 313.10,52.82 313.30,55.00 C313.50,57.18 313.80,59.50 314.10,62.00 C314.40,64.50 314.70,67.42 315.10,70.00 C315.50,72.58 316.00,75.17 316.50,77.50 C317.00,79.83 317.27,81.88 318.10,84.00 C318.93,86.12 320.35,88.18 321.50,90.20 C322.65,92.22 323.88,94.20 325.00,96.10 C326.12,98.00 327.10,99.78 328.20,101.60 C329.30,103.42 330.40,105.35 331.60,107.00 C332.80,108.65 334.15,110.28 335.40,111.50 C336.65,112.72 337.73,113.40 339.10,114.30 C340.47,115.20 341.18,115.40 343.60,116.90 C346.02,118.40 350.20,121.25 353.60,123.30 C357.00,125.35 360.43,127.25 364.00,129.20 C367.57,131.15 371.33,133.05 375.00,135.00 C378.67,136.95 381.83,138.97 386.00,140.90 C390.17,142.83 394.33,144.42 400.00,146.60 C405.67,148.78 413.33,151.57 420.00,154.00 C426.67,156.43 433.33,158.73 440.00,161.20 C446.67,163.67 454.83,166.68 460.00,168.80 C465.17,170.92 467.37,172.15 471.00,173.90 C474.63,175.65 480.00,178.40 481.80,179.30" fill="none" stroke="#3f64a8" stroke-width="1.0"/>
<path d="M55.10,250.30 C55.28,251.08 55.77,253.38 56.20,255.00 C56.63,256.62 57.17,258.48 57.70,260.00 C58.23,261.52 58.68,262.52 59.40,264.10 C60.12,265.68 60.98,267.68 62.00,269.50 C63.02,271.32 64.17,273.17 65.50,275.00 C66.83,276.83 68.25,278.62 70.00,280.50 C71.75,282.38 73.83,284.47 76.00,286.30 C78.17,288.13 80.67,289.93 83.00,291.50 C85.33,293.07 87.17,294.15 90.00,295.70 C92.83,297.25 96.67,299.33 100.00,300.80 C103.33,302.27 106.67,303.33 110.00,304.50 C113.33,305.67 116.67,306.75 120.00,307.80 C123.33,308.85 126.67,309.80 130.00,310.80 C133.33,311.80 135.83,312.57 140.00,313.80 C144.17,315.03 150.00,316.85 155.00,318.20 C160.00,319.55 165.00,320.77 170.00,321.90 C175.00,323.03 180.00,324.05 185.00,325.00 C190.00,325.95 195.00,326.80 200.00,327.60 C205.00,328.40 210.00,329.10 215.00,329.80 C220.00,330.50 225.00,331.15 230.00,331.80 C235.00,332.45 239.75,333.07 245.00,333.70 C250.25,334.33 258.75,335.28 261.50,335.60" fill="none" stroke="#3f64a8" stroke-width="1.0"/>
<path d="M318.00,258.60 C318.33,259.58 319.17,262.18 320.00,264.50 C320.83,266.82 321.95,269.92 323.00,272.50 C324.05,275.08 324.80,277.37 326.30,280.00 C327.80,282.63 329.72,285.63 332.00,288.30 C334.28,290.97 337.15,293.63 340.00,296.00 C342.85,298.37 345.77,300.37 349.10,302.50 C352.43,304.63 354.85,306.63 360.00,308.80 C365.15,310.97 373.33,313.38 380.00,315.50 C386.67,317.62 393.33,319.67 400.00,321.50 C406.67,323.33 413.33,324.92 420.00,326.50 C426.67,328.08 433.33,329.58 440.00,331.00 C446.67,332.42 453.33,333.75 460.00,335.00 C466.67,336.25 473.33,337.47 480.00,338.50 C486.67,339.53 494.78,340.48 500.00,341.20 C505.22,341.92 509.42,342.53 511.30,342.80" fill="none" stroke="#3f64a8" stroke-width="1.0"/>
<line x1="141.0" y1="95.4" x2="178.1" y2="95.4" stroke="#7383c3" stroke-width="1.2"/>
<circle cx="159.6" cy="114.2" r="2.85" fill="none" stroke="#587bb5" stroke-width="1.05"/>
<text class="b" transform="translate(194.26,100.80) scale(1.0416,1)" style="font-size:18px;fill:#1a1a1a">Eq. (6)</text>
<text class="b" transform="translate(194.28,119.90) scale(1.0064,1)" style="font-size:18px;fill:#1a1a1a">ED</text>
<line x1="402.7" y1="94.0" x2="440.2" y2="94.0" stroke="#7383c3" stroke-width="1.2"/>
<circle cx="421.2" cy="113.5" r="2.85" fill="none" stroke="#587bb5" stroke-width="1.05"/>
<text class="b" transform="translate(455.66,100.00) scale(1.0355,1)" style="font-size:18px;fill:#1a1a1a">Eq. (6)</text>
<text class="b" transform="translate(455.68,119.40) scale(1.0108,1)" style="font-size:18px;fill:#1a1a1a">ED</text>
<line x1="140.6" y1="265.8" x2="177.5" y2="265.8" stroke="#7383c3" stroke-width="1.2"/>
<circle cx="158.5" cy="284.3" r="2.85" fill="none" stroke="#587bb5" stroke-width="1.05"/>
<text class="b" transform="translate(193.47,271.30) scale(1.0293,1)" style="font-size:18px;fill:#1a1a1a">Eq. (6)</text>
<text class="b" transform="translate(193.47,291.40) scale(1.0196,1)" style="font-size:18px;fill:#1a1a1a">ED</text>
<line x1="398.6" y1="270.4" x2="435.7" y2="270.4" stroke="#7383c3" stroke-width="1.2"/>
<circle cx="416.7" cy="289.6" r="2.85" fill="none" stroke="#587bb5" stroke-width="1.05"/>
<text class="b" transform="translate(451.77,275.80) scale(1.0231,1)" style="font-size:18px;fill:#1a1a1a">Eq. (6)</text>
<text class="b" transform="translate(451.78,295.70) scale(1.0064,1)" style="font-size:18px;fill:#1a1a1a">ED</text>
<text class="b" transform="translate(56.58,144.80) scale(0.6844,1)" style="font-size:15.9px;fill:#1a1a1a">log-convex</text>
<text class="b" transform="translate(315.78,146.00) scale(0.6844,1)" style="font-size:15.9px;fill:#1a1a1a">log-convex</text>
<text class="b" transform="translate(74.58,277.20) scale(0.6816,1)" style="font-size:15.9px;fill:#1a1a1a">log-convex</text>
<text class="b" transform="translate(332.58,283.80) scale(0.6886,1)" style="font-size:15.9px;fill:#1a1a1a">log-convex</text>
<g class="b" transform="translate(56.24,172.70) scale(0.963,1)"><text x="0" y="0" style="font-size:16.5px;fill:#1a1a1a">N</text><text x="11.92" y="2.4" style="font-size:12px;fill:#1a1a1a">c</text><text x="17.24" y="0" style="font-size:16.5px;fill:#1a1a1a">=0</text></g>
<g class="b" transform="translate(315.54,173.20) scale(0.963,1)"><text x="0" y="0" style="font-size:16.5px;fill:#1a1a1a">N</text><text x="11.92" y="2.4" style="font-size:12px;fill:#1a1a1a">c</text><text x="17.24" y="0" style="font-size:16.5px;fill:#1a1a1a">=4M</text></g>
<g class="b" transform="translate(52.54,335.90) scale(0.963,1)"><text x="0" y="0" style="font-size:16.5px;fill:#1a1a1a">N</text><text x="11.92" y="2.4" style="font-size:12px;fill:#1a1a1a">c</text><text x="17.24" y="0" style="font-size:16.5px;fill:#1a1a1a">=10M</text></g>
<g class="b" transform="translate(317.44,337.30) scale(0.963,1)"><text x="0" y="0" style="font-size:16.5px;fill:#1a1a1a">N</text><text x="11.92" y="2.4" style="font-size:12px;fill:#1a1a1a">c</text><text x="17.24" y="0" style="font-size:16.5px;fill:#1a1a1a">=45M</text></g>
<g transform="translate(16.00,125.80) rotate(-90)" fill="#1a1a1a"><path d="M11.6,-9.6 C11.4,-10.8 10.2,-11 9.5,-9.8 C8,-7 5.2,-2.2 3.6,0.8 C2.9,2.2 1.9,3 0.7,2.6 M6.3,-6.6 L9.6,-6.6" fill="none" stroke="#1a1a1a" stroke-width="1.05" stroke-linecap="round"/><text x="7.53" y="0" style="font-size:15.3px;fill:#1a1a1a">(</text><path transform="translate(12.6,-12.6) scale(0.92,0.92)" d="M0.3,13.7 C1.2,12.7 2.2,11.5 3,10.2 C2.3,7.6 2.2,4 2.8,1.5 C3.2,0.2 4.2,-0.1 4.9,0.8 C5.6,2 5.5,4.6 4.6,6.9 C4,8.5 3.3,9.6 3.05,10.5 C3.1,11.6 4,12.3 5,12.1 C5.8,11.9 6.6,11.4 7.1,11.1" fill="none" stroke="#1a1a1a" stroke-width="1.0" stroke-linecap="round"/><text x="19.01" y="0" style="font-size:15.3px;fill:#1a1a1a">)</text></g>
<g transform="translate(279.40,124.10) rotate(-90)" fill="#1a1a1a"><path d="M11.6,-9.6 C11.4,-10.8 10.2,-11 9.5,-9.8 C8,-7 5.2,-2.2 3.6,0.8 C2.9,2.2 1.9,3 0.7,2.6 M6.3,-6.6 L9.6,-6.6" fill="none" stroke="#1a1a1a" stroke-width="1.05" stroke-linecap="round"/><text x="7.53" y="0" style="font-size:15.3px;fill:#1a1a1a">(</text><path transform="translate(12.6,-12.6) scale(0.92,0.92)" d="M0.3,13.7 C1.2,12.7 2.2,11.5 3,10.2 C2.3,7.6 2.2,4 2.8,1.5 C3.2,0.2 4.2,-0.1 4.9,0.8 C5.6,2 5.5,4.6 4.6,6.9 C4,8.5 3.3,9.6 3.05,10.5 C3.1,11.6 4,12.3 5,12.1 C5.8,11.9 6.6,11.4 7.1,11.1" fill="none" stroke="#1a1a1a" stroke-width="1.0" stroke-linecap="round"/><text x="19.01" y="0" style="font-size:15.3px;fill:#1a1a1a">)</text></g>
<g transform="translate(13.80,287.60) rotate(-90)" fill="#1a1a1a"><path d="M11.6,-9.6 C11.4,-10.8 10.2,-11 9.5,-9.8 C8,-7 5.2,-2.2 3.6,0.8 C2.9,2.2 1.9,3 0.7,2.6 M6.3,-6.6 L9.6,-6.6" fill="none" stroke="#1a1a1a" stroke-width="1.05" stroke-linecap="round"/><text x="7.53" y="0" style="font-size:15.3px;fill:#1a1a1a">(</text><path transform="translate(12.6,-12.6) scale(0.92,0.92)" d="M0.3,13.7 C1.2,12.7 2.2,11.5 3,10.2 C2.3,7.6 2.2,4 2.8,1.5 C3.2,0.2 4.2,-0.1 4.9,0.8 C5.6,2 5.5,4.6 4.6,6.9 C4,8.5 3.3,9.6 3.05,10.5 C3.1,11.6 4,12.3 5,12.1 C5.8,11.9 6.6,11.4 7.1,11.1" fill="none" stroke="#1a1a1a" stroke-width="1.0" stroke-linecap="round"/><text x="19.01" y="0" style="font-size:15.3px;fill:#1a1a1a">)</text></g>
<g transform="translate(281.80,285.90) rotate(-90)" fill="#1a1a1a"><path d="M11.6,-9.6 C11.4,-10.8 10.2,-11 9.5,-9.8 C8,-7 5.2,-2.2 3.6,0.8 C2.9,2.2 1.9,3 0.7,2.6 M6.3,-6.6 L9.6,-6.6" fill="none" stroke="#1a1a1a" stroke-width="1.05" stroke-linecap="round"/><text x="7.53" y="0" style="font-size:15.3px;fill:#1a1a1a">(</text><path transform="translate(12.6,-12.6) scale(0.92,0.92)" d="M0.3,13.7 C1.2,12.7 2.2,11.5 3,10.2 C2.3,7.6 2.2,4 2.8,1.5 C3.2,0.2 4.2,-0.1 4.9,0.8 C5.6,2 5.5,4.6 4.6,6.9 C4,8.5 3.3,9.6 3.05,10.5 C3.1,11.6 4,12.3 5,12.1 C5.8,11.9 6.6,11.4 7.1,11.1" fill="none" stroke="#1a1a1a" stroke-width="1.0" stroke-linecap="round"/><text x="19.01" y="0" style="font-size:15.3px;fill:#1a1a1a">)</text></g>
<path transform="translate(150.60,190.10)" d="M0.3,13.7 C1.2,12.7 2.2,11.5 3,10.2 C2.3,7.6 2.2,4 2.8,1.5 C3.2,0.2 4.2,-0.1 4.9,0.8 C5.6,2 5.5,4.6 4.6,6.9 C4,8.5 3.3,9.6 3.05,10.5 C3.1,11.6 4,12.3 5,12.1 C5.8,11.9 6.6,11.4 7.1,11.1" fill="none" stroke="#2a2a2a" stroke-width="0.95" stroke-linecap="round"/>
<path transform="translate(410.60,188.00)" d="M0.3,13.7 C1.2,12.7 2.2,11.5 3,10.2 C2.3,7.6 2.2,4 2.8,1.5 C3.2,0.2 4.2,-0.1 4.9,0.8 C5.6,2 5.5,4.6 4.6,6.9 C4,8.5 3.3,9.6 3.05,10.5 C3.1,11.6 4,12.3 5,12.1 C5.8,11.9 6.6,11.4 7.1,11.1" fill="none" stroke="#2a2a2a" stroke-width="0.95" stroke-linecap="round"/>
<path transform="translate(147.80,352.20)" d="M0.3,13.7 C1.2,12.7 2.2,11.5 3,10.2 C2.3,7.6 2.2,4 2.8,1.5 C3.2,0.2 4.2,-0.1 4.9,0.8 C5.6,2 5.5,4.6 4.6,6.9 C4,8.5 3.3,9.6 3.05,10.5 C3.1,11.6 4,12.3 5,12.1 C5.8,11.9 6.6,11.4 7.1,11.1" fill="none" stroke="#2a2a2a" stroke-width="0.95" stroke-linecap="round"/>
<path transform="translate(415.20,354.00)" d="M0.3,13.7 C1.2,12.7 2.2,11.5 3,10.2 C2.3,7.6 2.2,4 2.8,1.5 C3.2,0.2 4.2,-0.1 4.9,0.8 C5.6,2 5.5,4.6 4.6,6.9 C4,8.5 3.3,9.6 3.05,10.5 C3.1,11.6 4,12.3 5,12.1 C5.8,11.9 6.6,11.4 7.1,11.1" fill="none" stroke="#2a2a2a" stroke-width="0.95" stroke-linecap="round"/>
<text class="bt" transform="translate(48.61,14.90) scale(1.0430,1)" style="font-size:18.5px;fill:#1e1e1e">SP</text>
<text class="bt" transform="translate(48.25,32.60) scale(1.0356,1)" style="font-size:18.5px;fill:#1e1e1e">N=5×10</text>
<text class="bt" transform="translate(113.22,26.80) scale(1.0000,1)" style="font-size:9.2px;fill:#1e1e1e">4</text>
<text class="bt" transform="translate(118.00,32.60) scale(1.0000,1)" style="font-size:18.5px;fill:#1e1e1e">,</text>
<text class="bt" transform="translate(127.04,32.60) scale(1.0000,1)" style="font-size:18.5px;font-style:italic;fill:#1e1e1e">d</text>
<text class="bt" transform="translate(135.47,32.60) scale(1.1217,1)" style="font-size:18.5px;fill:#1e1e1e">=2</text>
</svg>
</body></html>
